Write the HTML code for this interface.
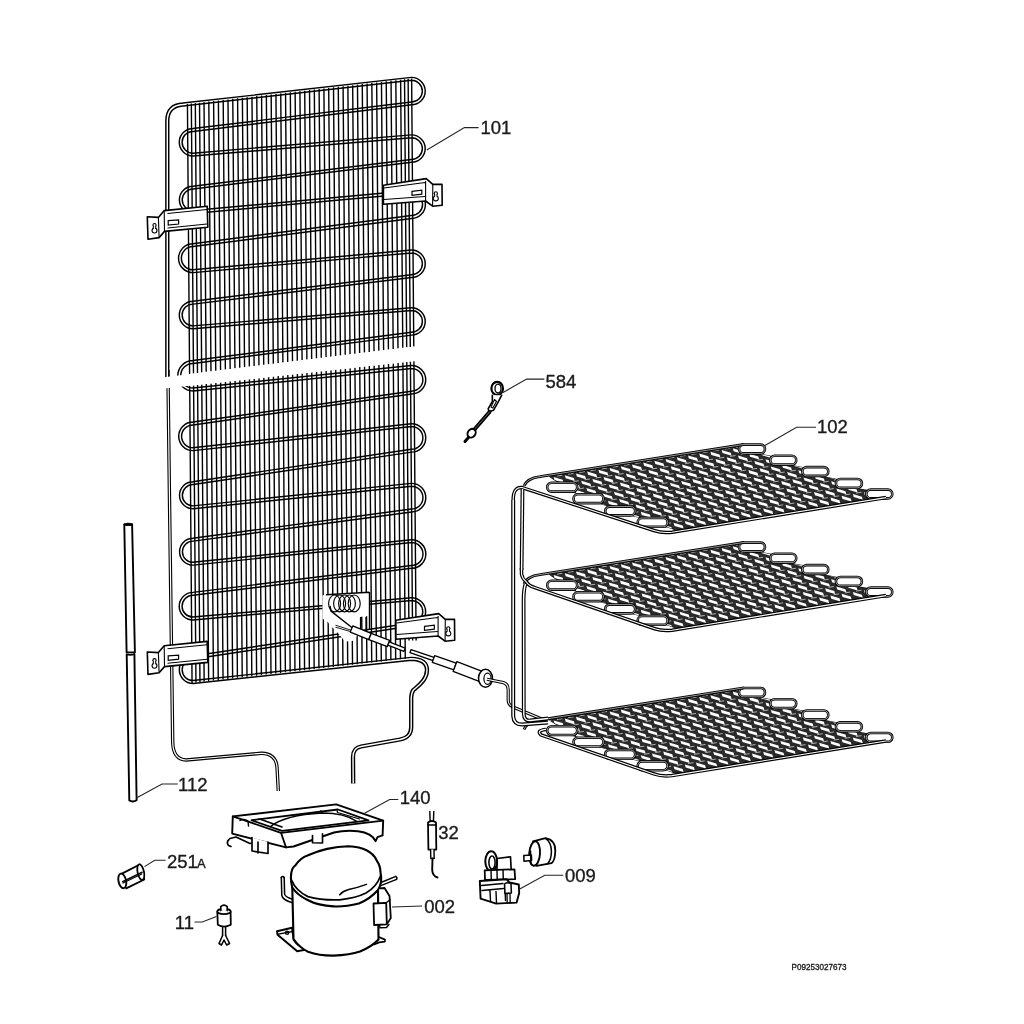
<!DOCTYPE html>
<html><head><meta charset="utf-8"><style>html,body{margin:0;padding:0;background:#fff;}svg{display:block;}</style></head>
<body><svg width="1024" height="1024" viewBox="0 0 1024 1024"><rect width="1024" height="1024" fill="#fff"/><g id="condenser"><path d="M167.9,370 L169.5,500 L172.7,742 C172.9,752 176,759.5 186,760 L261.2,753.3 C270,753 276.5,758 277,767 L278.3,791" fill="none" stroke="#000" stroke-width="3.4" stroke-linejoin="round" stroke-linecap="butt"/><path d="M167.9,370 L169.5,500 L172.7,742 C172.9,752 176,759.5 186,760 L261.2,753.3 C270,753 276.5,758 277,767 L278.3,791" fill="none" stroke="#fff" stroke-width="1.2" stroke-linejoin="round"/><path d="M167.3,380 L167.3,121 Q167.3,105.4 183,104.5 L411.5,78.8 A12.3,12.3 0 0 1 411.5,103.4 L193,130 A12.3,12.3 0 0 0 193,154.6 L411.5,136.3 A12.3,12.3 0 0 1 411.5,160.9 L193,187.6 A12.2,12.2 0 0 0 193,212 L411.5,192 A12.5,12.5 0 0 1 411.5,217 L193,245.1 A13.05,13.05 0 0 0 193,271.2 L411.5,251.5 A12.3,12.3 0 0 1 411.5,276.1 L193,302.7 A12.3,12.3 0 0 0 193,327.3 L411.5,309.1 A12.3,12.3 0 0 1 411.5,333.7 L193,362 A13.75,13.75 0 0 0 193,389.5 L411.5,367 A12.8,12.8 0 0 1 411.5,392.6 L193,423.5 A12.85,12.85 0 0 0 193,449.2 L411.5,425.1 A12.8,12.8 0 0 1 411.5,450.7 L193,483.1 A12.1,12.1 0 0 0 193,507.3 L411.5,484.8 A12.85,12.85 0 0 1 411.5,510.5 L193,539.7 A12,12 0 0 0 193,563.7 L411.5,541.1 A12.9,12.9 0 0 1 411.5,566.9 L193,593.8 A12.35,12.35 0 0 0 193,618.5 L411.5,599.1 A12.7,12.7 0 0 1 411.5,624.5 L193,657.5 A12.25,12.25 0 0 0 193,682 L411.2,658.8 C420,659 427,662 427,670 C427,680 418,686 413.5,690 C411,693 411.2,697 411.2,700 L411.2,727 C411.2,735 407,738 400,739.5 L361,746.5 C355,747.5 353,752 353,757 L353.2,783.5" fill="none" stroke="#000" stroke-width="4.3" stroke-linejoin="round" stroke-linecap="butt"/><path d="M167.3,380 L167.3,121 Q167.3,105.4 183,104.5 L411.5,78.8 A12.3,12.3 0 0 1 411.5,103.4 L193,130 A12.3,12.3 0 0 0 193,154.6 L411.5,136.3 A12.3,12.3 0 0 1 411.5,160.9 L193,187.6 A12.2,12.2 0 0 0 193,212 L411.5,192 A12.5,12.5 0 0 1 411.5,217 L193,245.1 A13.05,13.05 0 0 0 193,271.2 L411.5,251.5 A12.3,12.3 0 0 1 411.5,276.1 L193,302.7 A12.3,12.3 0 0 0 193,327.3 L411.5,309.1 A12.3,12.3 0 0 1 411.5,333.7 L193,362 A13.75,13.75 0 0 0 193,389.5 L411.5,367 A12.8,12.8 0 0 1 411.5,392.6 L193,423.5 A12.85,12.85 0 0 0 193,449.2 L411.5,425.1 A12.8,12.8 0 0 1 411.5,450.7 L193,483.1 A12.1,12.1 0 0 0 193,507.3 L411.5,484.8 A12.85,12.85 0 0 1 411.5,510.5 L193,539.7 A12,12 0 0 0 193,563.7 L411.5,541.1 A12.9,12.9 0 0 1 411.5,566.9 L193,593.8 A12.35,12.35 0 0 0 193,618.5 L411.5,599.1 A12.7,12.7 0 0 1 411.5,624.5 L193,657.5 A12.25,12.25 0 0 0 193,682 L411.2,658.8 C420,659 427,662 427,670 C427,680 418,686 413.5,690 C411,693 411.2,697 411.2,700 L411.2,727 C411.2,735 407,738 400,739.5 L361,746.5 C355,747.5 353,752 353,757 L353.2,783.5" fill="none" stroke="#fff" stroke-width="1.4" stroke-linejoin="round"/><path d="M187.43,104.02L189.59,373.87M189.69,385.82L192.06,683M191.33,103.58L193.49,373.39M193.58,385.39L195.96,682.56M195.32,103.12L197.48,372.91M197.58,384.95L199.96,682.1M199.52,102.64L201.68,372.39M201.78,384.49L204.15,681.62M204.02,102.13L206.17,371.85M206.27,384L208.65,681.11M208.81,101.58L210.97,371.26M211.07,383.47L213.44,680.56M213.61,101.03L215.77,370.67M215.86,382.94L218.24,680.01M218.4,100.49L220.56,370.09M220.66,382.41L223.04,679.47M223.2,99.94L225.36,369.5M225.46,381.89L227.83,678.92M228,99.39L230.15,368.92M230.25,381.36L232.63,678.37M232.79,98.84L234.95,368.33M235.05,380.83L237.42,677.83M237.59,98.3L239.74,367.75M239.84,380.3L242.22,677.28M242.38,97.75L244.54,367.16M244.64,379.77L247.01,676.73M247.18,97.2L249.33,366.58M249.43,379.25L251.81,676.18M251.97,96.66L254.13,365.99M254.23,378.72L256.61,675.64M256.77,96.11L258.92,365.4M259.03,378.19L261.4,675.09M261.56,95.56L263.72,364.82M263.82,377.66L266.2,674.54M266.36,95.01L268.51,364.23M268.62,377.13L270.99,674M271.16,94.47L273.31,363.65M273.41,376.61L275.79,673.45M275.95,93.92L278.1,363.06M278.21,376.08L280.58,672.9M280.75,93.37L282.9,362.48M283,375.55L285.38,672.35M285.54,92.82L287.7,361.89M287.8,375.02L290.17,671.81M290.34,92.28L292.49,361.3M292.6,374.49L294.97,671.26M295.13,91.73L297.29,360.72M297.39,373.97L299.77,670.71M299.93,91.18L302.08,360.13M302.19,373.44L304.56,670.17M304.73,90.64L306.88,359.55M306.98,372.91L309.36,669.62M309.52,90.09L311.67,358.96M311.78,372.38L314.15,669.07M314.32,89.54L316.47,358.38M316.57,371.85L318.95,668.52M319.11,88.99L321.26,357.79M321.37,371.33L323.74,667.98M323.91,88.45L326.06,357.21M326.17,370.8L328.54,667.43M328.7,87.9L330.85,356.62M330.96,370.27L333.34,666.88M333.5,87.35L335.65,356.03M335.76,369.74L338.13,666.33M338.29,86.81L340.44,355.45M340.55,369.21L342.93,665.79M343.09,86.26L345.24,354.86M345.35,368.69L347.72,665.24M347.89,85.71L350.03,354.28M350.15,368.16L352.52,664.69M352.68,85.16L354.83,353.69M354.94,367.63L357.31,664.15M357.48,84.62L359.62,353.11M359.74,367.1L362.11,663.6M362.27,84.07L364.42,352.52M364.53,366.57L366.9,663.05M367.07,83.52L369.22,351.94M369.33,366.05L371.7,662.5M371.86,82.98L374.01,351.35M374.12,365.52L376.5,661.96M376.66,82.43L378.81,350.76M378.92,364.99L381.29,661.41M381.46,81.88L383.6,350.18M383.72,364.46L386.09,660.86M386.25,81.33L388.4,349.59M388.51,363.93L390.88,660.32M391.05,80.79L393.19,349.01M393.31,363.41L395.68,659.77M395.84,80.24L397.99,348.42M398.1,362.88L400.47,659.22M400.64,79.69L402.78,347.84M402.9,362.35L405.27,658.67M404.53,79.25L406.68,347.36M406.8,361.92L409.02,640.5M408.13,78.84L410.28,346.92M410.39,361.52L412.62,640.5M411.63,78.44L413.77,346.49M413.89,361.14L416.12,640.5" stroke="#000" stroke-width="1.4" fill="none"/><polygon points="160,377.7 440,343.5 440,358.2 160,389" fill="#fff"/><polygon points="322.5,595.3 369.3,592 369.3,616 358.5,617 358.5,634 352.5,641 345,641.5 337.5,632.5 331,626 326,620 322.5,619" fill="#fff"/><path d="M326,594.8 L369.3,592.2 M369.5,592 L369.5,630" stroke="#000" stroke-width="1.4" fill="none"/><path d="M360.5,617 V634 M366,617 V634" stroke="#000" stroke-width="1.2" fill="none"/><ellipse cx="334.6" cy="603.4" rx="6.0" ry="8.4" fill="none" stroke="#000" stroke-width="1.15"/><ellipse cx="339.6" cy="603.4" rx="6.0" ry="8.4" fill="none" stroke="#000" stroke-width="1.15"/><ellipse cx="344.6" cy="603.4" rx="6.0" ry="8.4" fill="none" stroke="#000" stroke-width="1.15"/><ellipse cx="349.4" cy="603.4" rx="6.0" ry="8.4" fill="none" stroke="#000" stroke-width="1.15"/><ellipse cx="354.2" cy="603.4" rx="6.0" ry="8.4" fill="none" stroke="#000" stroke-width="1.15"/><path d="M330,606 L331,611 L352.5,628" stroke="#000" stroke-width="1.5" fill="none"/><path d="M335.5,625.2 L352,630.5 M335.5,627.2 L352,632" stroke="#000" stroke-width="0.9" fill="none"/><polygon points="350.26,632.06 368.76,639.56 371.24,633.44 352.74,625.94" fill="#fff" stroke="#000" stroke-width="1.3" stroke-linejoin="round"/><polygon points="368.83,639.59 387.33,646.59 389.67,640.41 371.17,633.41" fill="#fff" stroke="#000" stroke-width="1.3" stroke-linejoin="round"/><polygon points="387.84,645.17 403.84,651.47 405.16,648.13 389.16,641.83" fill="#fff" stroke="#000" stroke-width="1.3" stroke-linejoin="round"/><polygon points="409.99,652.72 432.99,660.52 434.01,657.48 411.01,649.68" fill="#fff" stroke="#000" stroke-width="1.3" stroke-linejoin="round"/><polygon points="432.31,662.4 453.81,669.9 456.19,663.1 434.69,655.6" fill="#fff" stroke="#000" stroke-width="1.3" stroke-linejoin="round"/><polygon points="453.12,671.4 479.12,681.4 482.88,671.6 456.88,661.6" fill="#fff" stroke="#000" stroke-width="1.3" stroke-linejoin="round"/><ellipse cx="485.5" cy="678.3" rx="7" ry="9" fill="#fff" stroke="#000" stroke-width="1.5"/><ellipse cx="487.5" cy="678.8" rx="3.6" ry="5.6" fill="#fff" stroke="#000" stroke-width="1.2"/><path d="M487,679.3 L503.5,682.6 Q508.2,684 508.2,690 L508.2,700.5 Q508.4,705 513,707 L546,720.8" fill="none" stroke="#000" stroke-width="3.2" stroke-linejoin="round" stroke-linecap="butt"/><path d="M487,679.3 L503.5,682.6 Q508.2,684 508.2,690 L508.2,700.5 Q508.4,705 513,707 L546,720.8" fill="none" stroke="#fff" stroke-width="1.1" stroke-linejoin="round"/><g transform="translate(0 0)"><polygon points="147.3,216.8 158.4,217.4 164.2,210.6 207.2,206.2 207.8,227.2 164.5,231.4 159.1,237.6 148,239.2" fill="#fff" stroke="#000" stroke-width="1.6" stroke-linejoin="round"/><path d="M158.4,217.4 L159.1,237.6 M164.2,210.6 L164.5,231.4 M167.5,213.5 L207,209.5 M167.5,228 L207,224" stroke="#000" stroke-width="1.1" fill="none"/><polygon points="168.2,220.6 178.6,219.9 178.6,224 168.2,225.2" fill="#fff" stroke="#000" stroke-width="1.2"/><g stroke="none"><circle cx="154.5" cy="225" r="2.1" fill="#000"/><circle cx="154.5" cy="230.6" r="3.0" fill="#000"/><rect x="152.8" y="225" width="3.4" height="5.6" fill="#000"/><circle cx="154.5" cy="225" r="1.0" fill="#fff"/><circle cx="154.5" cy="230.6" r="1.9" fill="#fff"/><rect x="153.85" y="225" width="1.3" height="5.6" fill="#fff"/></g></g><g transform="translate(0 435.2)"><polygon points="147.3,216.8 158.4,217.4 164.2,210.6 207.2,206.2 207.8,227.2 164.5,231.4 159.1,237.6 148,239.2" fill="#fff" stroke="#000" stroke-width="1.6" stroke-linejoin="round"/><path d="M158.4,217.4 L159.1,237.6 M164.2,210.6 L164.5,231.4 M167.5,213.5 L207,209.5 M167.5,228 L207,224" stroke="#000" stroke-width="1.1" fill="none"/><polygon points="168.2,220.6 178.6,219.9 178.6,224 168.2,225.2" fill="#fff" stroke="#000" stroke-width="1.2"/><g stroke="none"><circle cx="154.5" cy="225" r="2.1" fill="#000"/><circle cx="154.5" cy="230.6" r="3.0" fill="#000"/><rect x="152.8" y="225" width="3.4" height="5.6" fill="#000"/><circle cx="154.5" cy="225" r="1.0" fill="#fff"/><circle cx="154.5" cy="230.6" r="1.9" fill="#fff"/><rect x="153.85" y="225" width="1.3" height="5.6" fill="#fff"/></g></g><g transform="translate(0 0)"><polygon points="383.4,185.2 426.2,178.6 432.8,184.4 442,184.2 442.2,205.2 432.6,206.2 425.6,201 383.4,204.2" fill="#fff" stroke="#000" stroke-width="1.6" stroke-linejoin="round"/><path d="M425.6,181 L425.6,201 M432.8,184.4 L432.6,206.2 M384,188 L425,182.5 M384,199.5 L425,196.5" stroke="#000" stroke-width="1.1" fill="none"/><polygon points="412,191.4 421.8,190.2 421.8,194.2 412,195.4" fill="#fff" stroke="#000" stroke-width="1.2"/><g stroke="none"><circle cx="435.8" cy="193.3" r="2.1" fill="#000"/><circle cx="435.8" cy="198.4" r="3.0" fill="#000"/><rect x="434.1" y="193.3" width="3.4" height="5.1" fill="#000"/><circle cx="435.8" cy="193.3" r="1.0" fill="#fff"/><circle cx="435.8" cy="198.4" r="1.9" fill="#fff"/><rect x="435.15" y="193.3" width="1.3" height="5.1" fill="#fff"/></g></g><g transform="translate(12.5 435)"><polygon points="383.4,185.2 426.2,178.6 432.8,184.4 442,184.2 442.2,205.2 432.6,206.2 425.6,201 383.4,204.2" fill="#fff" stroke="#000" stroke-width="1.6" stroke-linejoin="round"/><path d="M425.6,181 L425.6,201 M432.8,184.4 L432.6,206.2 M384,188 L425,182.5 M384,199.5 L425,196.5" stroke="#000" stroke-width="1.1" fill="none"/><polygon points="412,191.4 421.8,190.2 421.8,194.2 412,195.4" fill="#fff" stroke="#000" stroke-width="1.2"/><g stroke="none"><circle cx="435.8" cy="193.3" r="2.1" fill="#000"/><circle cx="435.8" cy="198.4" r="3.0" fill="#000"/><rect x="434.1" y="193.3" width="3.4" height="5.1" fill="#000"/><circle cx="435.8" cy="193.3" r="1.0" fill="#fff"/><circle cx="435.8" cy="198.4" r="1.9" fill="#fff"/><rect x="435.15" y="193.3" width="1.3" height="5.1" fill="#fff"/></g></g></g><g id="shelves"><clipPath id="cs1"><polygon points="549.5,476.6 741,446.4 750,447 750,451 757,453.6 781.25,458.2 781.25,462.2 788.25,464.8 813.3,469.5 813.3,473.5 820.3,476.1 846.9,481.4 846.9,485.4 853.9,488 877.3,492 877.3,496 884.3,498.6 880,497.2 676,530 668,527.2 652,524.6 652.7,524.4 652.7,520.4 620.2,513 620.2,509 588.5,500.7 588.5,496.7 562.2,489.2 562.2,485.2"/></clipPath><polygon points="549.5,476.6 741,446.4 750,447 750,451 757,453.6 781.25,458.2 781.25,462.2 788.25,464.8 813.3,469.5 813.3,473.5 820.3,476.1 846.9,481.4 846.9,485.4 853.9,488 877.3,492 877.3,496 884.3,498.6 880,497.2 676,530 668,527.2 652,524.6 652.7,524.4 652.7,520.4 620.2,513 620.2,509 588.5,500.7 588.5,496.7 562.2,489.2 562.2,485.2" fill="#2a2a2a" stroke="#111" stroke-width="1.0"/><path clip-path="url(#cs1)" d="M534.8,520.7L543.9,523.4L544.8,526.5L535.7,523.8ZM540,528L549.1,530.7L550,533.8L540.9,531.1ZM545.2,535.3L554.3,538L555.2,541.1L546.1,538.4ZM535.6,504.3L544.7,507L545.6,510.1L536.5,507.4ZM540.8,511.6L549.9,514.3L550.8,517.4L541.7,514.7ZM546,518.9L555.1,521.6L556,524.7L546.9,522ZM551.2,526.2L560.3,528.9L561.2,532L552.1,529.3ZM556.4,533.5L565.5,536.2L566.4,539.3L557.3,536.6ZM536.4,487.9L545.5,490.6L546.4,493.7L537.3,491ZM541.6,495.2L550.7,497.9L551.6,501L542.5,498.3ZM546.8,502.5L555.9,505.2L556.8,508.3L547.7,505.6ZM552,509.8L561.1,512.5L562,515.6L552.9,512.9ZM557.2,517.1L566.3,519.8L567.2,522.9L558.1,520.2ZM562.4,524.4L571.5,527.1L572.4,530.2L563.3,527.5ZM567.6,531.7L576.7,534.4L577.6,537.5L568.5,534.8ZM537.2,471.5L546.3,474.2L547.2,477.3L538.1,474.6ZM542.4,478.8L551.5,481.5L552.4,484.6L543.3,481.9ZM547.6,486.1L556.7,488.8L557.6,491.9L548.5,489.2ZM552.8,493.4L561.9,496.1L562.8,499.2L553.7,496.5ZM558,500.7L567.1,503.4L568,506.5L558.9,503.8ZM563.2,508L572.3,510.7L573.2,513.8L564.1,511.1ZM568.4,515.3L577.5,518L578.4,521.1L569.3,518.4ZM573.6,522.6L582.7,525.3L583.6,528.4L574.5,525.7ZM578.8,529.9L587.9,532.6L588.8,535.7L579.7,533ZM538,455.1L547.1,457.8L548,460.9L538.9,458.2ZM543.2,462.4L552.3,465.1L553.2,468.2L544.1,465.5ZM548.4,469.7L557.5,472.4L558.4,475.5L549.3,472.8ZM553.6,477L562.7,479.7L563.6,482.8L554.5,480.1ZM558.8,484.3L567.9,487L568.8,490.1L559.7,487.4ZM564,491.6L573.1,494.3L574,497.4L564.9,494.7ZM569.2,498.9L578.3,501.6L579.2,504.7L570.1,502ZM574.4,506.2L583.5,508.9L584.4,512L575.3,509.3ZM579.6,513.5L588.7,516.2L589.6,519.3L580.5,516.6ZM584.8,520.8L593.9,523.5L594.8,526.6L585.7,523.9ZM590,528.1L599.1,530.8L600,533.9L590.9,531.2ZM595.2,535.4L604.3,538.1L605.2,541.2L596.1,538.5ZM538.8,438.7L547.9,441.4L548.8,444.5L539.7,441.8ZM544,446L553.1,448.7L554,451.8L544.9,449.1ZM549.2,453.3L558.3,456L559.2,459.1L550.1,456.4ZM554.4,460.6L563.5,463.3L564.4,466.4L555.3,463.7ZM559.6,467.9L568.7,470.6L569.6,473.7L560.5,471ZM564.8,475.2L573.9,477.9L574.8,481L565.7,478.3ZM570,482.5L579.1,485.2L580,488.3L570.9,485.6ZM575.2,489.8L584.3,492.5L585.2,495.6L576.1,492.9ZM580.4,497.1L589.5,499.8L590.4,502.9L581.3,500.2ZM585.6,504.4L594.7,507.1L595.6,510.2L586.5,507.5ZM590.8,511.7L599.9,514.4L600.8,517.5L591.7,514.8ZM596,519L605.1,521.7L606,524.8L596.9,522.1ZM601.2,526.3L610.3,529L611.2,532.1L602.1,529.4ZM606.4,533.6L615.5,536.3L616.4,539.4L607.3,536.7ZM550,436.9L559.1,439.6L560,442.7L550.9,440ZM555.2,444.2L564.3,446.9L565.2,450L556.1,447.3ZM560.4,451.5L569.5,454.2L570.4,457.3L561.3,454.6ZM565.6,458.8L574.7,461.5L575.6,464.6L566.5,461.9ZM570.8,466.1L579.9,468.8L580.8,471.9L571.7,469.2ZM576,473.4L585.1,476.1L586,479.2L576.9,476.5ZM581.2,480.7L590.3,483.4L591.2,486.5L582.1,483.8ZM586.4,488L595.5,490.7L596.4,493.8L587.3,491.1ZM591.6,495.3L600.7,498L601.6,501.1L592.5,498.4ZM596.8,502.6L605.9,505.3L606.8,508.4L597.7,505.7ZM602,509.9L611.1,512.6L612,515.7L602.9,513ZM607.2,517.2L616.3,519.9L617.2,523L608.1,520.3ZM612.4,524.5L621.5,527.2L622.4,530.3L613.3,527.6ZM617.6,531.8L626.7,534.5L627.6,537.6L618.5,534.9ZM561.2,435.1L570.3,437.8L571.2,440.9L562.1,438.2ZM566.4,442.4L575.5,445.1L576.4,448.2L567.3,445.5ZM571.6,449.7L580.7,452.4L581.6,455.5L572.5,452.8ZM576.8,457L585.9,459.7L586.8,462.8L577.7,460.1ZM582,464.3L591.1,467L592,470.1L582.9,467.4ZM587.2,471.6L596.3,474.3L597.2,477.4L588.1,474.7ZM592.4,478.9L601.5,481.6L602.4,484.7L593.3,482ZM597.6,486.2L606.7,488.9L607.6,492L598.5,489.3ZM602.8,493.5L611.9,496.2L612.8,499.3L603.7,496.6ZM608,500.8L617.1,503.5L618,506.6L608.9,503.9ZM613.2,508.1L622.3,510.8L623.2,513.9L614.1,511.2ZM618.4,515.4L627.5,518.1L628.4,521.2L619.3,518.5ZM623.6,522.7L632.7,525.4L633.6,528.5L624.5,525.8ZM628.8,530L637.9,532.7L638.8,535.8L629.7,533.1ZM577.6,440.6L586.7,443.3L587.6,446.4L578.5,443.7ZM582.8,447.9L591.9,450.6L592.8,453.7L583.7,451ZM588,455.2L597.1,457.9L598,461L588.9,458.3ZM593.2,462.5L602.3,465.2L603.2,468.3L594.1,465.6ZM598.4,469.8L607.5,472.5L608.4,475.6L599.3,472.9ZM603.6,477.1L612.7,479.8L613.6,482.9L604.5,480.2ZM608.8,484.4L617.9,487.1L618.8,490.2L609.7,487.5ZM614,491.7L623.1,494.4L624,497.5L614.9,494.8ZM619.2,499L628.3,501.7L629.2,504.8L620.1,502.1ZM624.4,506.3L633.5,509L634.4,512.1L625.3,509.4ZM629.6,513.6L638.7,516.3L639.6,519.4L630.5,516.7ZM634.8,520.9L643.9,523.6L644.8,526.7L635.7,524ZM640,528.2L649.1,530.9L650,534L640.9,531.3ZM645.2,535.5L654.3,538.2L655.2,541.3L646.1,538.6ZM588.8,438.8L597.9,441.5L598.8,444.6L589.7,441.9ZM594,446.1L603.1,448.8L604,451.9L594.9,449.2ZM599.2,453.4L608.3,456.1L609.2,459.2L600.1,456.5ZM604.4,460.7L613.5,463.4L614.4,466.5L605.3,463.8ZM609.6,468L618.7,470.7L619.6,473.8L610.5,471.1ZM614.8,475.3L623.9,478L624.8,481.1L615.7,478.4ZM620,482.6L629.1,485.3L630,488.4L620.9,485.7ZM625.2,489.9L634.3,492.6L635.2,495.7L626.1,493ZM630.4,497.2L639.5,499.9L640.4,503L631.3,500.3ZM635.6,504.5L644.7,507.2L645.6,510.3L636.5,507.6ZM640.8,511.8L649.9,514.5L650.8,517.6L641.7,514.9ZM646,519.1L655.1,521.8L656,524.9L646.9,522.2ZM651.2,526.4L660.3,529.1L661.2,532.2L652.1,529.5ZM656.4,533.7L665.5,536.4L666.4,539.5L657.3,536.8ZM600,437L609.1,439.7L610,442.8L600.9,440.1ZM605.2,444.3L614.3,447L615.2,450.1L606.1,447.4ZM610.4,451.6L619.5,454.3L620.4,457.4L611.3,454.7ZM615.6,458.9L624.7,461.6L625.6,464.7L616.5,462ZM620.8,466.2L629.9,468.9L630.8,472L621.7,469.3ZM626,473.5L635.1,476.2L636,479.3L626.9,476.6ZM631.2,480.8L640.3,483.5L641.2,486.6L632.1,483.9ZM636.4,488.1L645.5,490.8L646.4,493.9L637.3,491.2ZM641.6,495.4L650.7,498.1L651.6,501.2L642.5,498.5ZM646.8,502.7L655.9,505.4L656.8,508.5L647.7,505.8ZM652,510L661.1,512.7L662,515.8L652.9,513.1ZM657.2,517.3L666.3,520L667.2,523.1L658.1,520.4ZM662.4,524.6L671.5,527.3L672.4,530.4L663.3,527.7ZM667.6,531.9L676.7,534.6L677.6,537.7L668.5,535ZM611.2,435.2L620.3,437.9L621.2,441L612.1,438.3ZM616.4,442.5L625.5,445.2L626.4,448.3L617.3,445.6ZM621.6,449.8L630.7,452.5L631.6,455.6L622.5,452.9ZM626.8,457.1L635.9,459.8L636.8,462.9L627.7,460.2ZM632,464.4L641.1,467.1L642,470.2L632.9,467.5ZM637.2,471.7L646.3,474.4L647.2,477.5L638.1,474.8ZM642.4,479L651.5,481.7L652.4,484.8L643.3,482.1ZM647.6,486.3L656.7,489L657.6,492.1L648.5,489.4ZM652.8,493.6L661.9,496.3L662.8,499.4L653.7,496.7ZM658,500.9L667.1,503.6L668,506.7L658.9,504ZM663.2,508.2L672.3,510.9L673.2,514L664.1,511.3ZM668.4,515.5L677.5,518.2L678.4,521.3L669.3,518.6ZM673.6,522.8L682.7,525.5L683.6,528.6L674.5,525.9ZM678.8,530.1L687.9,532.8L688.8,535.9L679.7,533.2ZM627.6,440.7L636.7,443.4L637.6,446.5L628.5,443.8ZM632.8,448L641.9,450.7L642.8,453.8L633.7,451.1ZM638,455.3L647.1,458L648,461.1L638.9,458.4ZM643.2,462.6L652.3,465.3L653.2,468.4L644.1,465.7ZM648.4,469.9L657.5,472.6L658.4,475.7L649.3,473ZM653.6,477.2L662.7,479.9L663.6,483L654.5,480.3ZM658.8,484.5L667.9,487.2L668.8,490.3L659.7,487.6ZM664,491.8L673.1,494.5L674,497.6L664.9,494.9ZM669.2,499.1L678.3,501.8L679.2,504.9L670.1,502.2ZM674.4,506.4L683.5,509.1L684.4,512.2L675.3,509.5ZM679.6,513.7L688.7,516.4L689.6,519.5L680.5,516.8ZM684.8,521L693.9,523.7L694.8,526.8L685.7,524.1ZM690,528.3L699.1,531L700,534.1L690.9,531.4ZM695.2,535.6L704.3,538.3L705.2,541.4L696.1,538.7ZM638.8,438.9L647.9,441.6L648.8,444.7L639.7,442ZM644,446.2L653.1,448.9L654,452L644.9,449.3ZM649.2,453.5L658.3,456.2L659.2,459.3L650.1,456.6ZM654.4,460.8L663.5,463.5L664.4,466.6L655.3,463.9ZM659.6,468.1L668.7,470.8L669.6,473.9L660.5,471.2ZM664.8,475.4L673.9,478.1L674.8,481.2L665.7,478.5ZM670,482.7L679.1,485.4L680,488.5L670.9,485.8ZM675.2,490L684.3,492.7L685.2,495.8L676.1,493.1ZM680.4,497.3L689.5,500L690.4,503.1L681.3,500.4ZM685.6,504.6L694.7,507.3L695.6,510.4L686.5,507.7ZM690.8,511.9L699.9,514.6L700.8,517.7L691.7,515ZM696,519.2L705.1,521.9L706,525L696.9,522.3ZM701.2,526.5L710.3,529.2L711.2,532.3L702.1,529.6ZM706.4,533.8L715.5,536.5L716.4,539.6L707.3,536.9ZM650,437.1L659.1,439.8L660,442.9L650.9,440.2ZM655.2,444.4L664.3,447.1L665.2,450.2L656.1,447.5ZM660.4,451.7L669.5,454.4L670.4,457.5L661.3,454.8ZM665.6,459L674.7,461.7L675.6,464.8L666.5,462.1ZM670.8,466.3L679.9,469L680.8,472.1L671.7,469.4ZM676,473.6L685.1,476.3L686,479.4L676.9,476.7ZM681.2,480.9L690.3,483.6L691.2,486.7L682.1,484ZM686.4,488.2L695.5,490.9L696.4,494L687.3,491.3ZM691.6,495.5L700.7,498.2L701.6,501.3L692.5,498.6ZM696.8,502.8L705.9,505.5L706.8,508.6L697.7,505.9ZM702,510.1L711.1,512.8L712,515.9L702.9,513.2ZM707.2,517.4L716.3,520.1L717.2,523.2L708.1,520.5ZM712.4,524.7L721.5,527.4L722.4,530.5L713.3,527.8ZM717.6,532L726.7,534.7L727.6,537.8L718.5,535.1ZM661.2,435.3L670.3,438L671.2,441.1L662.1,438.4ZM666.4,442.6L675.5,445.3L676.4,448.4L667.3,445.7ZM671.6,449.9L680.7,452.6L681.6,455.7L672.5,453ZM676.8,457.2L685.9,459.9L686.8,463L677.7,460.3ZM682,464.5L691.1,467.2L692,470.3L682.9,467.6ZM687.2,471.8L696.3,474.5L697.2,477.6L688.1,474.9ZM692.4,479.1L701.5,481.8L702.4,484.9L693.3,482.2ZM697.6,486.4L706.7,489.1L707.6,492.2L698.5,489.5ZM702.8,493.7L711.9,496.4L712.8,499.5L703.7,496.8ZM708,501L717.1,503.7L718,506.8L708.9,504.1ZM713.2,508.3L722.3,511L723.2,514.1L714.1,511.4ZM718.4,515.6L727.5,518.3L728.4,521.4L719.3,518.7ZM723.6,522.9L732.7,525.6L733.6,528.7L724.5,526ZM728.8,530.2L737.9,532.9L738.8,536L729.7,533.3ZM672.4,433.5L681.5,436.2L682.4,439.3L673.3,436.6ZM677.6,440.8L686.7,443.5L687.6,446.6L678.5,443.9ZM682.8,448.1L691.9,450.8L692.8,453.9L683.7,451.2ZM688,455.4L697.1,458.1L698,461.2L688.9,458.5ZM693.2,462.7L702.3,465.4L703.2,468.5L694.1,465.8ZM698.4,470L707.5,472.7L708.4,475.8L699.3,473.1ZM703.6,477.3L712.7,480L713.6,483.1L704.5,480.4ZM708.8,484.6L717.9,487.3L718.8,490.4L709.7,487.7ZM714,491.9L723.1,494.6L724,497.7L714.9,495ZM719.2,499.2L728.3,501.9L729.2,505L720.1,502.3ZM724.4,506.5L733.5,509.2L734.4,512.3L725.3,509.6ZM729.6,513.8L738.7,516.5L739.6,519.6L730.5,516.9ZM734.8,521.1L743.9,523.8L744.8,526.9L735.7,524.2ZM740,528.4L749.1,531.1L750,534.2L740.9,531.5ZM745.2,535.7L754.3,538.4L755.2,541.5L746.1,538.8ZM688.8,439L697.9,441.7L698.8,444.8L689.7,442.1ZM694,446.3L703.1,449L704,452.1L694.9,449.4ZM699.2,453.6L708.3,456.3L709.2,459.4L700.1,456.7ZM704.4,460.9L713.5,463.6L714.4,466.7L705.3,464ZM709.6,468.2L718.7,470.9L719.6,474L710.5,471.3ZM714.8,475.5L723.9,478.2L724.8,481.3L715.7,478.6ZM720,482.8L729.1,485.5L730,488.6L720.9,485.9ZM725.2,490.1L734.3,492.8L735.2,495.9L726.1,493.2ZM730.4,497.4L739.5,500.1L740.4,503.2L731.3,500.5ZM735.6,504.7L744.7,507.4L745.6,510.5L736.5,507.8ZM740.8,512L749.9,514.7L750.8,517.8L741.7,515.1ZM746,519.3L755.1,522L756,525.1L746.9,522.4ZM751.2,526.6L760.3,529.3L761.2,532.4L752.1,529.7ZM756.4,533.9L765.5,536.6L766.4,539.7L757.3,537ZM700,437.2L709.1,439.9L710,443L700.9,440.3ZM705.2,444.5L714.3,447.2L715.2,450.3L706.1,447.6ZM710.4,451.8L719.5,454.5L720.4,457.6L711.3,454.9ZM715.6,459.1L724.7,461.8L725.6,464.9L716.5,462.2ZM720.8,466.4L729.9,469.1L730.8,472.2L721.7,469.5ZM726,473.7L735.1,476.4L736,479.5L726.9,476.8ZM731.2,481L740.3,483.7L741.2,486.8L732.1,484.1ZM736.4,488.3L745.5,491L746.4,494.1L737.3,491.4ZM741.6,495.6L750.7,498.3L751.6,501.4L742.5,498.7ZM746.8,502.9L755.9,505.6L756.8,508.7L747.7,506ZM752,510.2L761.1,512.9L762,516L752.9,513.3ZM757.2,517.5L766.3,520.2L767.2,523.3L758.1,520.6ZM762.4,524.8L771.5,527.5L772.4,530.6L763.3,527.9ZM767.6,532.1L776.7,534.8L777.6,537.9L768.5,535.2ZM711.2,435.4L720.3,438.1L721.2,441.2L712.1,438.5ZM716.4,442.7L725.5,445.4L726.4,448.5L717.3,445.8ZM721.6,450L730.7,452.7L731.6,455.8L722.5,453.1ZM726.8,457.3L735.9,460L736.8,463.1L727.7,460.4ZM732,464.6L741.1,467.3L742,470.4L732.9,467.7ZM737.2,471.9L746.3,474.6L747.2,477.7L738.1,475ZM742.4,479.2L751.5,481.9L752.4,485L743.3,482.3ZM747.6,486.5L756.7,489.2L757.6,492.3L748.5,489.6ZM752.8,493.8L761.9,496.5L762.8,499.6L753.7,496.9ZM758,501.1L767.1,503.8L768,506.9L758.9,504.2ZM763.2,508.4L772.3,511.1L773.2,514.2L764.1,511.5ZM768.4,515.7L777.5,518.4L778.4,521.5L769.3,518.8ZM773.6,523L782.7,525.7L783.6,528.8L774.5,526.1ZM778.8,530.3L787.9,533L788.8,536.1L779.7,533.4ZM722.4,433.6L731.5,436.3L732.4,439.4L723.3,436.7ZM727.6,440.9L736.7,443.6L737.6,446.7L728.5,444ZM732.8,448.2L741.9,450.9L742.8,454L733.7,451.3ZM738,455.5L747.1,458.2L748,461.3L738.9,458.6ZM743.2,462.8L752.3,465.5L753.2,468.6L744.1,465.9ZM748.4,470.1L757.5,472.8L758.4,475.9L749.3,473.2ZM753.6,477.4L762.7,480.1L763.6,483.2L754.5,480.5ZM758.8,484.7L767.9,487.4L768.8,490.5L759.7,487.8ZM764,492L773.1,494.7L774,497.8L764.9,495.1ZM769.2,499.3L778.3,502L779.2,505.1L770.1,502.4ZM774.4,506.6L783.5,509.3L784.4,512.4L775.3,509.7ZM779.6,513.9L788.7,516.6L789.6,519.7L780.5,517ZM784.8,521.2L793.9,523.9L794.8,527L785.7,524.3ZM790,528.5L799.1,531.2L800,534.3L790.9,531.6ZM795.2,535.8L804.3,538.5L805.2,541.6L796.1,538.9ZM738.8,439.1L747.9,441.8L748.8,444.9L739.7,442.2ZM744,446.4L753.1,449.1L754,452.2L744.9,449.5ZM749.2,453.7L758.3,456.4L759.2,459.5L750.1,456.8ZM754.4,461L763.5,463.7L764.4,466.8L755.3,464.1ZM759.6,468.3L768.7,471L769.6,474.1L760.5,471.4ZM764.8,475.6L773.9,478.3L774.8,481.4L765.7,478.7ZM770,482.9L779.1,485.6L780,488.7L770.9,486ZM775.2,490.2L784.3,492.9L785.2,496L776.1,493.3ZM780.4,497.5L789.5,500.2L790.4,503.3L781.3,500.6ZM785.6,504.8L794.7,507.5L795.6,510.6L786.5,507.9ZM790.8,512.1L799.9,514.8L800.8,517.9L791.7,515.2ZM796,519.4L805.1,522.1L806,525.2L796.9,522.5ZM801.2,526.7L810.3,529.4L811.2,532.5L802.1,529.8ZM806.4,534L815.5,536.7L816.4,539.8L807.3,537.1ZM750,437.3L759.1,440L760,443.1L750.9,440.4ZM755.2,444.6L764.3,447.3L765.2,450.4L756.1,447.7ZM760.4,451.9L769.5,454.6L770.4,457.7L761.3,455ZM765.6,459.2L774.7,461.9L775.6,465L766.5,462.3ZM770.8,466.5L779.9,469.2L780.8,472.3L771.7,469.6ZM776,473.8L785.1,476.5L786,479.6L776.9,476.9ZM781.2,481.1L790.3,483.8L791.2,486.9L782.1,484.2ZM786.4,488.4L795.5,491.1L796.4,494.2L787.3,491.5ZM791.6,495.7L800.7,498.4L801.6,501.5L792.5,498.8ZM796.8,503L805.9,505.7L806.8,508.8L797.7,506.1ZM802,510.3L811.1,513L812,516.1L802.9,513.4ZM807.2,517.6L816.3,520.3L817.2,523.4L808.1,520.7ZM812.4,524.9L821.5,527.6L822.4,530.7L813.3,528ZM817.6,532.2L826.7,534.9L827.6,538L818.5,535.3ZM761.2,435.5L770.3,438.2L771.2,441.3L762.1,438.6ZM766.4,442.8L775.5,445.5L776.4,448.6L767.3,445.9ZM771.6,450.1L780.7,452.8L781.6,455.9L772.5,453.2ZM776.8,457.4L785.9,460.1L786.8,463.2L777.7,460.5ZM782,464.7L791.1,467.4L792,470.5L782.9,467.8ZM787.2,472L796.3,474.7L797.2,477.8L788.1,475.1ZM792.4,479.3L801.5,482L802.4,485.1L793.3,482.4ZM797.6,486.6L806.7,489.3L807.6,492.4L798.5,489.7ZM802.8,493.9L811.9,496.6L812.8,499.7L803.7,497ZM808,501.2L817.1,503.9L818,507L808.9,504.3ZM813.2,508.5L822.3,511.2L823.2,514.3L814.1,511.6ZM818.4,515.8L827.5,518.5L828.4,521.6L819.3,518.9ZM823.6,523.1L832.7,525.8L833.6,528.9L824.5,526.2ZM828.8,530.4L837.9,533.1L838.8,536.2L829.7,533.5ZM772.4,433.7L781.5,436.4L782.4,439.5L773.3,436.8ZM777.6,441L786.7,443.7L787.6,446.8L778.5,444.1ZM782.8,448.3L791.9,451L792.8,454.1L783.7,451.4ZM788,455.6L797.1,458.3L798,461.4L788.9,458.7ZM793.2,462.9L802.3,465.6L803.2,468.7L794.1,466ZM798.4,470.2L807.5,472.9L808.4,476L799.3,473.3ZM803.6,477.5L812.7,480.2L813.6,483.3L804.5,480.6ZM808.8,484.8L817.9,487.5L818.8,490.6L809.7,487.9ZM814,492.1L823.1,494.8L824,497.9L814.9,495.2ZM819.2,499.4L828.3,502.1L829.2,505.2L820.1,502.5ZM824.4,506.7L833.5,509.4L834.4,512.5L825.3,509.8ZM829.6,514L838.7,516.7L839.6,519.8L830.5,517.1ZM834.8,521.3L843.9,524L844.8,527.1L835.7,524.4ZM840,528.6L849.1,531.3L850,534.4L840.9,531.7ZM845.2,535.9L854.3,538.6L855.2,541.7L846.1,539ZM788.8,439.2L797.9,441.9L798.8,445L789.7,442.3ZM794,446.5L803.1,449.2L804,452.3L794.9,449.6ZM799.2,453.8L808.3,456.5L809.2,459.6L800.1,456.9ZM804.4,461.1L813.5,463.8L814.4,466.9L805.3,464.2ZM809.6,468.4L818.7,471.1L819.6,474.2L810.5,471.5ZM814.8,475.7L823.9,478.4L824.8,481.5L815.7,478.8ZM820,483L829.1,485.7L830,488.8L820.9,486.1ZM825.2,490.3L834.3,493L835.2,496.1L826.1,493.4ZM830.4,497.6L839.5,500.3L840.4,503.4L831.3,500.7ZM835.6,504.9L844.7,507.6L845.6,510.7L836.5,508ZM840.8,512.2L849.9,514.9L850.8,518L841.7,515.3ZM846,519.5L855.1,522.2L856,525.3L846.9,522.6ZM851.2,526.8L860.3,529.5L861.2,532.6L852.1,529.9ZM856.4,534.1L865.5,536.8L866.4,539.9L857.3,537.2ZM800,437.4L809.1,440.1L810,443.2L800.9,440.5ZM805.2,444.7L814.3,447.4L815.2,450.5L806.1,447.8ZM810.4,452L819.5,454.7L820.4,457.8L811.3,455.1ZM815.6,459.3L824.7,462L825.6,465.1L816.5,462.4ZM820.8,466.6L829.9,469.3L830.8,472.4L821.7,469.7ZM826,473.9L835.1,476.6L836,479.7L826.9,477ZM831.2,481.2L840.3,483.9L841.2,487L832.1,484.3ZM836.4,488.5L845.5,491.2L846.4,494.3L837.3,491.6ZM841.6,495.8L850.7,498.5L851.6,501.6L842.5,498.9ZM846.8,503.1L855.9,505.8L856.8,508.9L847.7,506.2ZM852,510.4L861.1,513.1L862,516.2L852.9,513.5ZM857.2,517.7L866.3,520.4L867.2,523.5L858.1,520.8ZM862.4,525L871.5,527.7L872.4,530.8L863.3,528.1ZM867.6,532.3L876.7,535L877.6,538.1L868.5,535.4ZM811.2,435.6L820.3,438.3L821.2,441.4L812.1,438.7ZM816.4,442.9L825.5,445.6L826.4,448.7L817.3,446ZM821.6,450.2L830.7,452.9L831.6,456L822.5,453.3ZM826.8,457.5L835.9,460.2L836.8,463.3L827.7,460.6ZM832,464.8L841.1,467.5L842,470.6L832.9,467.9ZM837.2,472.1L846.3,474.8L847.2,477.9L838.1,475.2ZM842.4,479.4L851.5,482.1L852.4,485.2L843.3,482.5ZM847.6,486.7L856.7,489.4L857.6,492.5L848.5,489.8ZM852.8,494L861.9,496.7L862.8,499.8L853.7,497.1ZM858,501.3L867.1,504L868,507.1L858.9,504.4ZM863.2,508.6L872.3,511.3L873.2,514.4L864.1,511.7ZM868.4,515.9L877.5,518.6L878.4,521.7L869.3,519ZM873.6,523.2L882.7,525.9L883.6,529L874.5,526.3ZM878.8,530.5L887.9,533.2L888.8,536.3L879.7,533.6ZM822.4,433.8L831.5,436.5L832.4,439.6L823.3,436.9ZM827.6,441.1L836.7,443.8L837.6,446.9L828.5,444.2ZM832.8,448.4L841.9,451.1L842.8,454.2L833.7,451.5ZM838,455.7L847.1,458.4L848,461.5L838.9,458.8ZM843.2,463L852.3,465.7L853.2,468.8L844.1,466.1ZM848.4,470.3L857.5,473L858.4,476.1L849.3,473.4ZM853.6,477.6L862.7,480.3L863.6,483.4L854.5,480.7ZM858.8,484.9L867.9,487.6L868.8,490.7L859.7,488ZM864,492.2L873.1,494.9L874,498L864.9,495.3ZM869.2,499.5L878.3,502.2L879.2,505.3L870.1,502.6ZM874.4,506.8L883.5,509.5L884.4,512.6L875.3,509.9ZM879.6,514.1L888.7,516.8L889.6,519.9L880.5,517.2ZM884.8,521.4L893.9,524.1L894.8,527.2L885.7,524.5ZM838.8,439.3L847.9,442L848.8,445.1L839.7,442.4ZM844,446.6L853.1,449.3L854,452.4L844.9,449.7ZM849.2,453.9L858.3,456.6L859.2,459.7L850.1,457ZM854.4,461.2L863.5,463.9L864.4,467L855.3,464.3ZM859.6,468.5L868.7,471.2L869.6,474.3L860.5,471.6ZM864.8,475.8L873.9,478.5L874.8,481.6L865.7,478.9ZM870,483.1L879.1,485.8L880,488.9L870.9,486.2ZM875.2,490.4L884.3,493.1L885.2,496.2L876.1,493.5ZM880.4,497.7L889.5,500.4L890.4,503.5L881.3,500.8ZM885.6,505L894.7,507.7L895.6,510.8L886.5,508.1ZM850,437.5L859.1,440.2L860,443.3L850.9,440.6ZM855.2,444.8L864.3,447.5L865.2,450.6L856.1,447.9ZM860.4,452.1L869.5,454.8L870.4,457.9L861.3,455.2ZM865.6,459.4L874.7,462.1L875.6,465.2L866.5,462.5ZM870.8,466.7L879.9,469.4L880.8,472.5L871.7,469.8ZM876,474L885.1,476.7L886,479.8L876.9,477.1ZM881.2,481.3L890.3,484L891.2,487.1L882.1,484.4ZM886.4,488.6L895.5,491.3L896.4,494.4L887.3,491.7ZM861.2,435.7L870.3,438.4L871.2,441.5L862.1,438.8ZM866.4,443L875.5,445.7L876.4,448.8L867.3,446.1ZM871.6,450.3L880.7,453L881.6,456.1L872.5,453.4ZM876.8,457.6L885.9,460.3L886.8,463.4L877.7,460.7ZM882,464.9L891.1,467.6L892,470.7L882.9,468ZM887.2,472.2L896.3,474.9L897.2,478L888.1,475.3ZM872.4,433.9L881.5,436.6L882.4,439.7L873.3,437ZM877.6,441.2L886.7,443.9L887.6,447L878.5,444.3ZM882.8,448.5L891.9,451.2L892.8,454.3L883.7,451.6ZM888,455.8L897.1,458.5L898,461.6L888.9,458.9ZM888.8,439.4L897.9,442.1L898.8,445.2L889.7,442.5Z" fill="#fff"/><path clip-path="url(#cs1)" d="M336.19,446.49L1126.05,319.55M341.39,453.79L1131.25,326.85M346.59,461.09L1136.45,334.15M351.79,468.39L1141.65,341.45M356.99,475.69L1146.85,348.75M362.19,482.99L1152.05,356.05M367.39,490.29L1157.25,363.35M372.59,497.59L1162.45,370.65M377.79,504.89L1167.65,377.95M382.99,512.19L1172.85,385.25M388.19,519.49L1178.05,392.55M393.39,526.79L1183.25,399.85M398.59,534.09L1188.45,407.15M403.79,541.39L1193.65,414.45M408.99,548.69L1198.85,421.75M414.19,555.99L1204.05,429.05M419.39,563.29L1209.25,436.35M424.59,570.59L1214.45,443.65M429.79,577.89L1219.65,450.95M434.99,585.19L1224.85,458.25M440.19,592.49L1230.05,465.55M445.39,599.79L1235.25,472.85M450.59,607.09L1240.45,480.15M455.79,614.39L1245.65,487.45M460.99,621.69L1250.85,494.75M466.19,628.99L1256.05,502.05M471.39,636.29L1261.25,509.35M476.59,643.59L1266.45,516.65M481.79,650.89L1271.65,523.95M486.99,658.19L1276.85,531.25" stroke="#b0b0b0" stroke-width="1" stroke-dasharray="5.5 5.84" fill="none"/><path d="M743.4,444.6 L760.6,444.6 A4.4,4.4 0 0 1 760.6,453.4 L743.4,453.4 A4.4,4.4 0 0 1 743.4,444.6 Z" fill="#fff" stroke="#000" stroke-width="2.6"/><path d="M743.4,444.6 L760.6,444.6 A4.4,4.4 0 0 1 760.6,453.4 L743.4,453.4 A4.4,4.4 0 0 1 743.4,444.6 Z" fill="none" stroke="#fff" stroke-width="0.6"/><path d="M774.65,455.8 L791.85,455.8 A4.4,4.4 0 0 1 791.85,464.6 L774.65,464.6 A4.4,4.4 0 0 1 774.65,455.8 Z" fill="#fff" stroke="#000" stroke-width="2.6"/><path d="M774.65,455.8 L791.85,455.8 A4.4,4.4 0 0 1 791.85,464.6 L774.65,464.6 A4.4,4.4 0 0 1 774.65,455.8 Z" fill="none" stroke="#fff" stroke-width="0.6"/><path d="M806.7,467.1 L823.9,467.1 A4.4,4.4 0 0 1 823.9,475.9 L806.7,475.9 A4.4,4.4 0 0 1 806.7,467.1 Z" fill="#fff" stroke="#000" stroke-width="2.6"/><path d="M806.7,467.1 L823.9,467.1 A4.4,4.4 0 0 1 823.9,475.9 L806.7,475.9 A4.4,4.4 0 0 1 806.7,467.1 Z" fill="none" stroke="#fff" stroke-width="0.6"/><path d="M840.3,479 L857.5,479 A4.4,4.4 0 0 1 857.5,487.8 L840.3,487.8 A4.4,4.4 0 0 1 840.3,479 Z" fill="#fff" stroke="#000" stroke-width="2.6"/><path d="M840.3,479 L857.5,479 A4.4,4.4 0 0 1 857.5,487.8 L840.3,487.8 A4.4,4.4 0 0 1 840.3,479 Z" fill="none" stroke="#fff" stroke-width="0.6"/><path d="M870.7,489.6 L887.9,489.6 A4.4,4.4 0 0 1 887.9,498.4 L870.7,498.4 A4.4,4.4 0 0 1 870.7,489.6 Z" fill="#fff" stroke="#000" stroke-width="2.6"/><path d="M870.7,489.6 L887.9,489.6 A4.4,4.4 0 0 1 887.9,498.4 L870.7,498.4 A4.4,4.4 0 0 1 870.7,489.6 Z" fill="none" stroke="#fff" stroke-width="0.6"/><path d="M551.6,482.8 L572.8,482.8 A4.4,4.4 0 0 1 572.8,491.6 L551.6,491.6 A4.4,4.4 0 0 1 551.6,482.8 Z" fill="#fff" stroke="#000" stroke-width="2.6"/><path d="M551.6,482.8 L572.8,482.8 A4.4,4.4 0 0 1 572.8,491.6 L551.6,491.6 A4.4,4.4 0 0 1 551.6,482.8 Z" fill="none" stroke="#fff" stroke-width="0.6"/><path d="M577.9,494.3 L599.1,494.3 A4.4,4.4 0 0 1 599.1,503.1 L577.9,503.1 A4.4,4.4 0 0 1 577.9,494.3 Z" fill="#fff" stroke="#000" stroke-width="2.6"/><path d="M577.9,494.3 L599.1,494.3 A4.4,4.4 0 0 1 599.1,503.1 L577.9,503.1 A4.4,4.4 0 0 1 577.9,494.3 Z" fill="none" stroke="#fff" stroke-width="0.6"/><path d="M609.6,506.6 L630.8,506.6 A4.4,4.4 0 0 1 630.8,515.4 L609.6,515.4 A4.4,4.4 0 0 1 609.6,506.6 Z" fill="#fff" stroke="#000" stroke-width="2.6"/><path d="M609.6,506.6 L630.8,506.6 A4.4,4.4 0 0 1 630.8,515.4 L609.6,515.4 A4.4,4.4 0 0 1 609.6,506.6 Z" fill="none" stroke="#fff" stroke-width="0.6"/><path d="M642.1,518 L663.3,518 A4.4,4.4 0 0 1 663.3,526.8 L642.1,526.8 A4.4,4.4 0 0 1 642.1,518 Z" fill="#fff" stroke="#000" stroke-width="2.6"/><path d="M642.1,518 L663.3,518 A4.4,4.4 0 0 1 663.3,526.8 L642.1,526.8 A4.4,4.4 0 0 1 642.1,518 Z" fill="none" stroke="#fff" stroke-width="0.6"/><path d="M524,486 Q527,478.2 540,476.6 L744,444.4" fill="none" stroke="#000" stroke-width="2.8" stroke-linejoin="round" stroke-linecap="butt"/><path d="M524,486 Q527,478.2 540,476.6 L744,444.4" fill="none" stroke="#fff" stroke-width="0.6" stroke-linejoin="round"/><path d="M513.2,500 Q513.2,486.8 522,487.6 L654,530.5 Q662,533.4 672,532.2 L886,497.6" fill="none" stroke="#000" stroke-width="3.5" stroke-linejoin="round" stroke-linecap="butt"/><path d="M513.2,500 Q513.2,486.8 522,487.6 L654,530.5 Q662,533.4 672,532.2 L886,497.6" fill="none" stroke="#fff" stroke-width="1.1" stroke-linejoin="round"/><clipPath id="cs2"><polygon points="549.5,574.6 741,544.4 750,545 750,549 757,551.6 781.25,556.2 781.25,560.2 788.25,562.8 813.3,567.5 813.3,571.5 820.3,574.1 846.9,579.4 846.9,583.4 853.9,586 877.3,590 877.3,594 884.3,596.6 880,595.2 676,628 668,625.2 652,622.6 652.7,622.4 652.7,618.4 620.2,611 620.2,607 588.5,598.7 588.5,594.7 562.2,587.2 562.2,583.2"/></clipPath><polygon points="549.5,574.6 741,544.4 750,545 750,549 757,551.6 781.25,556.2 781.25,560.2 788.25,562.8 813.3,567.5 813.3,571.5 820.3,574.1 846.9,579.4 846.9,583.4 853.9,586 877.3,590 877.3,594 884.3,596.6 880,595.2 676,628 668,625.2 652,622.6 652.7,622.4 652.7,618.4 620.2,611 620.2,607 588.5,598.7 588.5,594.7 562.2,587.2 562.2,583.2" fill="#2a2a2a" stroke="#111" stroke-width="1.0"/><path clip-path="url(#cs2)" d="M534.8,618.7L543.9,621.4L544.8,624.5L535.7,621.8ZM540,626L549.1,628.7L550,631.8L540.9,629.1ZM545.2,633.3L554.3,636L555.2,639.1L546.1,636.4ZM535.6,602.3L544.7,605L545.6,608.1L536.5,605.4ZM540.8,609.6L549.9,612.3L550.8,615.4L541.7,612.7ZM546,616.9L555.1,619.6L556,622.7L546.9,620ZM551.2,624.2L560.3,626.9L561.2,630L552.1,627.3ZM556.4,631.5L565.5,634.2L566.4,637.3L557.3,634.6ZM536.4,585.9L545.5,588.6L546.4,591.7L537.3,589ZM541.6,593.2L550.7,595.9L551.6,599L542.5,596.3ZM546.8,600.5L555.9,603.2L556.8,606.3L547.7,603.6ZM552,607.8L561.1,610.5L562,613.6L552.9,610.9ZM557.2,615.1L566.3,617.8L567.2,620.9L558.1,618.2ZM562.4,622.4L571.5,625.1L572.4,628.2L563.3,625.5ZM567.6,629.7L576.7,632.4L577.6,635.5L568.5,632.8ZM537.2,569.5L546.3,572.2L547.2,575.3L538.1,572.6ZM542.4,576.8L551.5,579.5L552.4,582.6L543.3,579.9ZM547.6,584.1L556.7,586.8L557.6,589.9L548.5,587.2ZM552.8,591.4L561.9,594.1L562.8,597.2L553.7,594.5ZM558,598.7L567.1,601.4L568,604.5L558.9,601.8ZM563.2,606L572.3,608.7L573.2,611.8L564.1,609.1ZM568.4,613.3L577.5,616L578.4,619.1L569.3,616.4ZM573.6,620.6L582.7,623.3L583.6,626.4L574.5,623.7ZM578.8,627.9L587.9,630.6L588.8,633.7L579.7,631ZM538,553.1L547.1,555.8L548,558.9L538.9,556.2ZM543.2,560.4L552.3,563.1L553.2,566.2L544.1,563.5ZM548.4,567.7L557.5,570.4L558.4,573.5L549.3,570.8ZM553.6,575L562.7,577.7L563.6,580.8L554.5,578.1ZM558.8,582.3L567.9,585L568.8,588.1L559.7,585.4ZM564,589.6L573.1,592.3L574,595.4L564.9,592.7ZM569.2,596.9L578.3,599.6L579.2,602.7L570.1,600ZM574.4,604.2L583.5,606.9L584.4,610L575.3,607.3ZM579.6,611.5L588.7,614.2L589.6,617.3L580.5,614.6ZM584.8,618.8L593.9,621.5L594.8,624.6L585.7,621.9ZM590,626.1L599.1,628.8L600,631.9L590.9,629.2ZM595.2,633.4L604.3,636.1L605.2,639.2L596.1,636.5ZM538.8,536.7L547.9,539.4L548.8,542.5L539.7,539.8ZM544,544L553.1,546.7L554,549.8L544.9,547.1ZM549.2,551.3L558.3,554L559.2,557.1L550.1,554.4ZM554.4,558.6L563.5,561.3L564.4,564.4L555.3,561.7ZM559.6,565.9L568.7,568.6L569.6,571.7L560.5,569ZM564.8,573.2L573.9,575.9L574.8,579L565.7,576.3ZM570,580.5L579.1,583.2L580,586.3L570.9,583.6ZM575.2,587.8L584.3,590.5L585.2,593.6L576.1,590.9ZM580.4,595.1L589.5,597.8L590.4,600.9L581.3,598.2ZM585.6,602.4L594.7,605.1L595.6,608.2L586.5,605.5ZM590.8,609.7L599.9,612.4L600.8,615.5L591.7,612.8ZM596,617L605.1,619.7L606,622.8L596.9,620.1ZM601.2,624.3L610.3,627L611.2,630.1L602.1,627.4ZM606.4,631.6L615.5,634.3L616.4,637.4L607.3,634.7ZM550,534.9L559.1,537.6L560,540.7L550.9,538ZM555.2,542.2L564.3,544.9L565.2,548L556.1,545.3ZM560.4,549.5L569.5,552.2L570.4,555.3L561.3,552.6ZM565.6,556.8L574.7,559.5L575.6,562.6L566.5,559.9ZM570.8,564.1L579.9,566.8L580.8,569.9L571.7,567.2ZM576,571.4L585.1,574.1L586,577.2L576.9,574.5ZM581.2,578.7L590.3,581.4L591.2,584.5L582.1,581.8ZM586.4,586L595.5,588.7L596.4,591.8L587.3,589.1ZM591.6,593.3L600.7,596L601.6,599.1L592.5,596.4ZM596.8,600.6L605.9,603.3L606.8,606.4L597.7,603.7ZM602,607.9L611.1,610.6L612,613.7L602.9,611ZM607.2,615.2L616.3,617.9L617.2,621L608.1,618.3ZM612.4,622.5L621.5,625.2L622.4,628.3L613.3,625.6ZM617.6,629.8L626.7,632.5L627.6,635.6L618.5,632.9ZM561.2,533.1L570.3,535.8L571.2,538.9L562.1,536.2ZM566.4,540.4L575.5,543.1L576.4,546.2L567.3,543.5ZM571.6,547.7L580.7,550.4L581.6,553.5L572.5,550.8ZM576.8,555L585.9,557.7L586.8,560.8L577.7,558.1ZM582,562.3L591.1,565L592,568.1L582.9,565.4ZM587.2,569.6L596.3,572.3L597.2,575.4L588.1,572.7ZM592.4,576.9L601.5,579.6L602.4,582.7L593.3,580ZM597.6,584.2L606.7,586.9L607.6,590L598.5,587.3ZM602.8,591.5L611.9,594.2L612.8,597.3L603.7,594.6ZM608,598.8L617.1,601.5L618,604.6L608.9,601.9ZM613.2,606.1L622.3,608.8L623.2,611.9L614.1,609.2ZM618.4,613.4L627.5,616.1L628.4,619.2L619.3,616.5ZM623.6,620.7L632.7,623.4L633.6,626.5L624.5,623.8ZM628.8,628L637.9,630.7L638.8,633.8L629.7,631.1ZM577.6,538.6L586.7,541.3L587.6,544.4L578.5,541.7ZM582.8,545.9L591.9,548.6L592.8,551.7L583.7,549ZM588,553.2L597.1,555.9L598,559L588.9,556.3ZM593.2,560.5L602.3,563.2L603.2,566.3L594.1,563.6ZM598.4,567.8L607.5,570.5L608.4,573.6L599.3,570.9ZM603.6,575.1L612.7,577.8L613.6,580.9L604.5,578.2ZM608.8,582.4L617.9,585.1L618.8,588.2L609.7,585.5ZM614,589.7L623.1,592.4L624,595.5L614.9,592.8ZM619.2,597L628.3,599.7L629.2,602.8L620.1,600.1ZM624.4,604.3L633.5,607L634.4,610.1L625.3,607.4ZM629.6,611.6L638.7,614.3L639.6,617.4L630.5,614.7ZM634.8,618.9L643.9,621.6L644.8,624.7L635.7,622ZM640,626.2L649.1,628.9L650,632L640.9,629.3ZM645.2,633.5L654.3,636.2L655.2,639.3L646.1,636.6ZM588.8,536.8L597.9,539.5L598.8,542.6L589.7,539.9ZM594,544.1L603.1,546.8L604,549.9L594.9,547.2ZM599.2,551.4L608.3,554.1L609.2,557.2L600.1,554.5ZM604.4,558.7L613.5,561.4L614.4,564.5L605.3,561.8ZM609.6,566L618.7,568.7L619.6,571.8L610.5,569.1ZM614.8,573.3L623.9,576L624.8,579.1L615.7,576.4ZM620,580.6L629.1,583.3L630,586.4L620.9,583.7ZM625.2,587.9L634.3,590.6L635.2,593.7L626.1,591ZM630.4,595.2L639.5,597.9L640.4,601L631.3,598.3ZM635.6,602.5L644.7,605.2L645.6,608.3L636.5,605.6ZM640.8,609.8L649.9,612.5L650.8,615.6L641.7,612.9ZM646,617.1L655.1,619.8L656,622.9L646.9,620.2ZM651.2,624.4L660.3,627.1L661.2,630.2L652.1,627.5ZM656.4,631.7L665.5,634.4L666.4,637.5L657.3,634.8ZM600,535L609.1,537.7L610,540.8L600.9,538.1ZM605.2,542.3L614.3,545L615.2,548.1L606.1,545.4ZM610.4,549.6L619.5,552.3L620.4,555.4L611.3,552.7ZM615.6,556.9L624.7,559.6L625.6,562.7L616.5,560ZM620.8,564.2L629.9,566.9L630.8,570L621.7,567.3ZM626,571.5L635.1,574.2L636,577.3L626.9,574.6ZM631.2,578.8L640.3,581.5L641.2,584.6L632.1,581.9ZM636.4,586.1L645.5,588.8L646.4,591.9L637.3,589.2ZM641.6,593.4L650.7,596.1L651.6,599.2L642.5,596.5ZM646.8,600.7L655.9,603.4L656.8,606.5L647.7,603.8ZM652,608L661.1,610.7L662,613.8L652.9,611.1ZM657.2,615.3L666.3,618L667.2,621.1L658.1,618.4ZM662.4,622.6L671.5,625.3L672.4,628.4L663.3,625.7ZM667.6,629.9L676.7,632.6L677.6,635.7L668.5,633ZM611.2,533.2L620.3,535.9L621.2,539L612.1,536.3ZM616.4,540.5L625.5,543.2L626.4,546.3L617.3,543.6ZM621.6,547.8L630.7,550.5L631.6,553.6L622.5,550.9ZM626.8,555.1L635.9,557.8L636.8,560.9L627.7,558.2ZM632,562.4L641.1,565.1L642,568.2L632.9,565.5ZM637.2,569.7L646.3,572.4L647.2,575.5L638.1,572.8ZM642.4,577L651.5,579.7L652.4,582.8L643.3,580.1ZM647.6,584.3L656.7,587L657.6,590.1L648.5,587.4ZM652.8,591.6L661.9,594.3L662.8,597.4L653.7,594.7ZM658,598.9L667.1,601.6L668,604.7L658.9,602ZM663.2,606.2L672.3,608.9L673.2,612L664.1,609.3ZM668.4,613.5L677.5,616.2L678.4,619.3L669.3,616.6ZM673.6,620.8L682.7,623.5L683.6,626.6L674.5,623.9ZM678.8,628.1L687.9,630.8L688.8,633.9L679.7,631.2ZM627.6,538.7L636.7,541.4L637.6,544.5L628.5,541.8ZM632.8,546L641.9,548.7L642.8,551.8L633.7,549.1ZM638,553.3L647.1,556L648,559.1L638.9,556.4ZM643.2,560.6L652.3,563.3L653.2,566.4L644.1,563.7ZM648.4,567.9L657.5,570.6L658.4,573.7L649.3,571ZM653.6,575.2L662.7,577.9L663.6,581L654.5,578.3ZM658.8,582.5L667.9,585.2L668.8,588.3L659.7,585.6ZM664,589.8L673.1,592.5L674,595.6L664.9,592.9ZM669.2,597.1L678.3,599.8L679.2,602.9L670.1,600.2ZM674.4,604.4L683.5,607.1L684.4,610.2L675.3,607.5ZM679.6,611.7L688.7,614.4L689.6,617.5L680.5,614.8ZM684.8,619L693.9,621.7L694.8,624.8L685.7,622.1ZM690,626.3L699.1,629L700,632.1L690.9,629.4ZM695.2,633.6L704.3,636.3L705.2,639.4L696.1,636.7ZM638.8,536.9L647.9,539.6L648.8,542.7L639.7,540ZM644,544.2L653.1,546.9L654,550L644.9,547.3ZM649.2,551.5L658.3,554.2L659.2,557.3L650.1,554.6ZM654.4,558.8L663.5,561.5L664.4,564.6L655.3,561.9ZM659.6,566.1L668.7,568.8L669.6,571.9L660.5,569.2ZM664.8,573.4L673.9,576.1L674.8,579.2L665.7,576.5ZM670,580.7L679.1,583.4L680,586.5L670.9,583.8ZM675.2,588L684.3,590.7L685.2,593.8L676.1,591.1ZM680.4,595.3L689.5,598L690.4,601.1L681.3,598.4ZM685.6,602.6L694.7,605.3L695.6,608.4L686.5,605.7ZM690.8,609.9L699.9,612.6L700.8,615.7L691.7,613ZM696,617.2L705.1,619.9L706,623L696.9,620.3ZM701.2,624.5L710.3,627.2L711.2,630.3L702.1,627.6ZM706.4,631.8L715.5,634.5L716.4,637.6L707.3,634.9ZM650,535.1L659.1,537.8L660,540.9L650.9,538.2ZM655.2,542.4L664.3,545.1L665.2,548.2L656.1,545.5ZM660.4,549.7L669.5,552.4L670.4,555.5L661.3,552.8ZM665.6,557L674.7,559.7L675.6,562.8L666.5,560.1ZM670.8,564.3L679.9,567L680.8,570.1L671.7,567.4ZM676,571.6L685.1,574.3L686,577.4L676.9,574.7ZM681.2,578.9L690.3,581.6L691.2,584.7L682.1,582ZM686.4,586.2L695.5,588.9L696.4,592L687.3,589.3ZM691.6,593.5L700.7,596.2L701.6,599.3L692.5,596.6ZM696.8,600.8L705.9,603.5L706.8,606.6L697.7,603.9ZM702,608.1L711.1,610.8L712,613.9L702.9,611.2ZM707.2,615.4L716.3,618.1L717.2,621.2L708.1,618.5ZM712.4,622.7L721.5,625.4L722.4,628.5L713.3,625.8ZM717.6,630L726.7,632.7L727.6,635.8L718.5,633.1ZM661.2,533.3L670.3,536L671.2,539.1L662.1,536.4ZM666.4,540.6L675.5,543.3L676.4,546.4L667.3,543.7ZM671.6,547.9L680.7,550.6L681.6,553.7L672.5,551ZM676.8,555.2L685.9,557.9L686.8,561L677.7,558.3ZM682,562.5L691.1,565.2L692,568.3L682.9,565.6ZM687.2,569.8L696.3,572.5L697.2,575.6L688.1,572.9ZM692.4,577.1L701.5,579.8L702.4,582.9L693.3,580.2ZM697.6,584.4L706.7,587.1L707.6,590.2L698.5,587.5ZM702.8,591.7L711.9,594.4L712.8,597.5L703.7,594.8ZM708,599L717.1,601.7L718,604.8L708.9,602.1ZM713.2,606.3L722.3,609L723.2,612.1L714.1,609.4ZM718.4,613.6L727.5,616.3L728.4,619.4L719.3,616.7ZM723.6,620.9L732.7,623.6L733.6,626.7L724.5,624ZM728.8,628.2L737.9,630.9L738.8,634L729.7,631.3ZM672.4,531.5L681.5,534.2L682.4,537.3L673.3,534.6ZM677.6,538.8L686.7,541.5L687.6,544.6L678.5,541.9ZM682.8,546.1L691.9,548.8L692.8,551.9L683.7,549.2ZM688,553.4L697.1,556.1L698,559.2L688.9,556.5ZM693.2,560.7L702.3,563.4L703.2,566.5L694.1,563.8ZM698.4,568L707.5,570.7L708.4,573.8L699.3,571.1ZM703.6,575.3L712.7,578L713.6,581.1L704.5,578.4ZM708.8,582.6L717.9,585.3L718.8,588.4L709.7,585.7ZM714,589.9L723.1,592.6L724,595.7L714.9,593ZM719.2,597.2L728.3,599.9L729.2,603L720.1,600.3ZM724.4,604.5L733.5,607.2L734.4,610.3L725.3,607.6ZM729.6,611.8L738.7,614.5L739.6,617.6L730.5,614.9ZM734.8,619.1L743.9,621.8L744.8,624.9L735.7,622.2ZM740,626.4L749.1,629.1L750,632.2L740.9,629.5ZM745.2,633.7L754.3,636.4L755.2,639.5L746.1,636.8ZM688.8,537L697.9,539.7L698.8,542.8L689.7,540.1ZM694,544.3L703.1,547L704,550.1L694.9,547.4ZM699.2,551.6L708.3,554.3L709.2,557.4L700.1,554.7ZM704.4,558.9L713.5,561.6L714.4,564.7L705.3,562ZM709.6,566.2L718.7,568.9L719.6,572L710.5,569.3ZM714.8,573.5L723.9,576.2L724.8,579.3L715.7,576.6ZM720,580.8L729.1,583.5L730,586.6L720.9,583.9ZM725.2,588.1L734.3,590.8L735.2,593.9L726.1,591.2ZM730.4,595.4L739.5,598.1L740.4,601.2L731.3,598.5ZM735.6,602.7L744.7,605.4L745.6,608.5L736.5,605.8ZM740.8,610L749.9,612.7L750.8,615.8L741.7,613.1ZM746,617.3L755.1,620L756,623.1L746.9,620.4ZM751.2,624.6L760.3,627.3L761.2,630.4L752.1,627.7ZM756.4,631.9L765.5,634.6L766.4,637.7L757.3,635ZM700,535.2L709.1,537.9L710,541L700.9,538.3ZM705.2,542.5L714.3,545.2L715.2,548.3L706.1,545.6ZM710.4,549.8L719.5,552.5L720.4,555.6L711.3,552.9ZM715.6,557.1L724.7,559.8L725.6,562.9L716.5,560.2ZM720.8,564.4L729.9,567.1L730.8,570.2L721.7,567.5ZM726,571.7L735.1,574.4L736,577.5L726.9,574.8ZM731.2,579L740.3,581.7L741.2,584.8L732.1,582.1ZM736.4,586.3L745.5,589L746.4,592.1L737.3,589.4ZM741.6,593.6L750.7,596.3L751.6,599.4L742.5,596.7ZM746.8,600.9L755.9,603.6L756.8,606.7L747.7,604ZM752,608.2L761.1,610.9L762,614L752.9,611.3ZM757.2,615.5L766.3,618.2L767.2,621.3L758.1,618.6ZM762.4,622.8L771.5,625.5L772.4,628.6L763.3,625.9ZM767.6,630.1L776.7,632.8L777.6,635.9L768.5,633.2ZM711.2,533.4L720.3,536.1L721.2,539.2L712.1,536.5ZM716.4,540.7L725.5,543.4L726.4,546.5L717.3,543.8ZM721.6,548L730.7,550.7L731.6,553.8L722.5,551.1ZM726.8,555.3L735.9,558L736.8,561.1L727.7,558.4ZM732,562.6L741.1,565.3L742,568.4L732.9,565.7ZM737.2,569.9L746.3,572.6L747.2,575.7L738.1,573ZM742.4,577.2L751.5,579.9L752.4,583L743.3,580.3ZM747.6,584.5L756.7,587.2L757.6,590.3L748.5,587.6ZM752.8,591.8L761.9,594.5L762.8,597.6L753.7,594.9ZM758,599.1L767.1,601.8L768,604.9L758.9,602.2ZM763.2,606.4L772.3,609.1L773.2,612.2L764.1,609.5ZM768.4,613.7L777.5,616.4L778.4,619.5L769.3,616.8ZM773.6,621L782.7,623.7L783.6,626.8L774.5,624.1ZM778.8,628.3L787.9,631L788.8,634.1L779.7,631.4ZM722.4,531.6L731.5,534.3L732.4,537.4L723.3,534.7ZM727.6,538.9L736.7,541.6L737.6,544.7L728.5,542ZM732.8,546.2L741.9,548.9L742.8,552L733.7,549.3ZM738,553.5L747.1,556.2L748,559.3L738.9,556.6ZM743.2,560.8L752.3,563.5L753.2,566.6L744.1,563.9ZM748.4,568.1L757.5,570.8L758.4,573.9L749.3,571.2ZM753.6,575.4L762.7,578.1L763.6,581.2L754.5,578.5ZM758.8,582.7L767.9,585.4L768.8,588.5L759.7,585.8ZM764,590L773.1,592.7L774,595.8L764.9,593.1ZM769.2,597.3L778.3,600L779.2,603.1L770.1,600.4ZM774.4,604.6L783.5,607.3L784.4,610.4L775.3,607.7ZM779.6,611.9L788.7,614.6L789.6,617.7L780.5,615ZM784.8,619.2L793.9,621.9L794.8,625L785.7,622.3ZM790,626.5L799.1,629.2L800,632.3L790.9,629.6ZM795.2,633.8L804.3,636.5L805.2,639.6L796.1,636.9ZM738.8,537.1L747.9,539.8L748.8,542.9L739.7,540.2ZM744,544.4L753.1,547.1L754,550.2L744.9,547.5ZM749.2,551.7L758.3,554.4L759.2,557.5L750.1,554.8ZM754.4,559L763.5,561.7L764.4,564.8L755.3,562.1ZM759.6,566.3L768.7,569L769.6,572.1L760.5,569.4ZM764.8,573.6L773.9,576.3L774.8,579.4L765.7,576.7ZM770,580.9L779.1,583.6L780,586.7L770.9,584ZM775.2,588.2L784.3,590.9L785.2,594L776.1,591.3ZM780.4,595.5L789.5,598.2L790.4,601.3L781.3,598.6ZM785.6,602.8L794.7,605.5L795.6,608.6L786.5,605.9ZM790.8,610.1L799.9,612.8L800.8,615.9L791.7,613.2ZM796,617.4L805.1,620.1L806,623.2L796.9,620.5ZM801.2,624.7L810.3,627.4L811.2,630.5L802.1,627.8ZM806.4,632L815.5,634.7L816.4,637.8L807.3,635.1ZM750,535.3L759.1,538L760,541.1L750.9,538.4ZM755.2,542.6L764.3,545.3L765.2,548.4L756.1,545.7ZM760.4,549.9L769.5,552.6L770.4,555.7L761.3,553ZM765.6,557.2L774.7,559.9L775.6,563L766.5,560.3ZM770.8,564.5L779.9,567.2L780.8,570.3L771.7,567.6ZM776,571.8L785.1,574.5L786,577.6L776.9,574.9ZM781.2,579.1L790.3,581.8L791.2,584.9L782.1,582.2ZM786.4,586.4L795.5,589.1L796.4,592.2L787.3,589.5ZM791.6,593.7L800.7,596.4L801.6,599.5L792.5,596.8ZM796.8,601L805.9,603.7L806.8,606.8L797.7,604.1ZM802,608.3L811.1,611L812,614.1L802.9,611.4ZM807.2,615.6L816.3,618.3L817.2,621.4L808.1,618.7ZM812.4,622.9L821.5,625.6L822.4,628.7L813.3,626ZM817.6,630.2L826.7,632.9L827.6,636L818.5,633.3ZM761.2,533.5L770.3,536.2L771.2,539.3L762.1,536.6ZM766.4,540.8L775.5,543.5L776.4,546.6L767.3,543.9ZM771.6,548.1L780.7,550.8L781.6,553.9L772.5,551.2ZM776.8,555.4L785.9,558.1L786.8,561.2L777.7,558.5ZM782,562.7L791.1,565.4L792,568.5L782.9,565.8ZM787.2,570L796.3,572.7L797.2,575.8L788.1,573.1ZM792.4,577.3L801.5,580L802.4,583.1L793.3,580.4ZM797.6,584.6L806.7,587.3L807.6,590.4L798.5,587.7ZM802.8,591.9L811.9,594.6L812.8,597.7L803.7,595ZM808,599.2L817.1,601.9L818,605L808.9,602.3ZM813.2,606.5L822.3,609.2L823.2,612.3L814.1,609.6ZM818.4,613.8L827.5,616.5L828.4,619.6L819.3,616.9ZM823.6,621.1L832.7,623.8L833.6,626.9L824.5,624.2ZM828.8,628.4L837.9,631.1L838.8,634.2L829.7,631.5ZM772.4,531.7L781.5,534.4L782.4,537.5L773.3,534.8ZM777.6,539L786.7,541.7L787.6,544.8L778.5,542.1ZM782.8,546.3L791.9,549L792.8,552.1L783.7,549.4ZM788,553.6L797.1,556.3L798,559.4L788.9,556.7ZM793.2,560.9L802.3,563.6L803.2,566.7L794.1,564ZM798.4,568.2L807.5,570.9L808.4,574L799.3,571.3ZM803.6,575.5L812.7,578.2L813.6,581.3L804.5,578.6ZM808.8,582.8L817.9,585.5L818.8,588.6L809.7,585.9ZM814,590.1L823.1,592.8L824,595.9L814.9,593.2ZM819.2,597.4L828.3,600.1L829.2,603.2L820.1,600.5ZM824.4,604.7L833.5,607.4L834.4,610.5L825.3,607.8ZM829.6,612L838.7,614.7L839.6,617.8L830.5,615.1ZM834.8,619.3L843.9,622L844.8,625.1L835.7,622.4ZM840,626.6L849.1,629.3L850,632.4L840.9,629.7ZM845.2,633.9L854.3,636.6L855.2,639.7L846.1,637ZM788.8,537.2L797.9,539.9L798.8,543L789.7,540.3ZM794,544.5L803.1,547.2L804,550.3L794.9,547.6ZM799.2,551.8L808.3,554.5L809.2,557.6L800.1,554.9ZM804.4,559.1L813.5,561.8L814.4,564.9L805.3,562.2ZM809.6,566.4L818.7,569.1L819.6,572.2L810.5,569.5ZM814.8,573.7L823.9,576.4L824.8,579.5L815.7,576.8ZM820,581L829.1,583.7L830,586.8L820.9,584.1ZM825.2,588.3L834.3,591L835.2,594.1L826.1,591.4ZM830.4,595.6L839.5,598.3L840.4,601.4L831.3,598.7ZM835.6,602.9L844.7,605.6L845.6,608.7L836.5,606ZM840.8,610.2L849.9,612.9L850.8,616L841.7,613.3ZM846,617.5L855.1,620.2L856,623.3L846.9,620.6ZM851.2,624.8L860.3,627.5L861.2,630.6L852.1,627.9ZM856.4,632.1L865.5,634.8L866.4,637.9L857.3,635.2ZM800,535.4L809.1,538.1L810,541.2L800.9,538.5ZM805.2,542.7L814.3,545.4L815.2,548.5L806.1,545.8ZM810.4,550L819.5,552.7L820.4,555.8L811.3,553.1ZM815.6,557.3L824.7,560L825.6,563.1L816.5,560.4ZM820.8,564.6L829.9,567.3L830.8,570.4L821.7,567.7ZM826,571.9L835.1,574.6L836,577.7L826.9,575ZM831.2,579.2L840.3,581.9L841.2,585L832.1,582.3ZM836.4,586.5L845.5,589.2L846.4,592.3L837.3,589.6ZM841.6,593.8L850.7,596.5L851.6,599.6L842.5,596.9ZM846.8,601.1L855.9,603.8L856.8,606.9L847.7,604.2ZM852,608.4L861.1,611.1L862,614.2L852.9,611.5ZM857.2,615.7L866.3,618.4L867.2,621.5L858.1,618.8ZM862.4,623L871.5,625.7L872.4,628.8L863.3,626.1ZM867.6,630.3L876.7,633L877.6,636.1L868.5,633.4ZM811.2,533.6L820.3,536.3L821.2,539.4L812.1,536.7ZM816.4,540.9L825.5,543.6L826.4,546.7L817.3,544ZM821.6,548.2L830.7,550.9L831.6,554L822.5,551.3ZM826.8,555.5L835.9,558.2L836.8,561.3L827.7,558.6ZM832,562.8L841.1,565.5L842,568.6L832.9,565.9ZM837.2,570.1L846.3,572.8L847.2,575.9L838.1,573.2ZM842.4,577.4L851.5,580.1L852.4,583.2L843.3,580.5ZM847.6,584.7L856.7,587.4L857.6,590.5L848.5,587.8ZM852.8,592L861.9,594.7L862.8,597.8L853.7,595.1ZM858,599.3L867.1,602L868,605.1L858.9,602.4ZM863.2,606.6L872.3,609.3L873.2,612.4L864.1,609.7ZM868.4,613.9L877.5,616.6L878.4,619.7L869.3,617ZM873.6,621.2L882.7,623.9L883.6,627L874.5,624.3ZM878.8,628.5L887.9,631.2L888.8,634.3L879.7,631.6ZM822.4,531.8L831.5,534.5L832.4,537.6L823.3,534.9ZM827.6,539.1L836.7,541.8L837.6,544.9L828.5,542.2ZM832.8,546.4L841.9,549.1L842.8,552.2L833.7,549.5ZM838,553.7L847.1,556.4L848,559.5L838.9,556.8ZM843.2,561L852.3,563.7L853.2,566.8L844.1,564.1ZM848.4,568.3L857.5,571L858.4,574.1L849.3,571.4ZM853.6,575.6L862.7,578.3L863.6,581.4L854.5,578.7ZM858.8,582.9L867.9,585.6L868.8,588.7L859.7,586ZM864,590.2L873.1,592.9L874,596L864.9,593.3ZM869.2,597.5L878.3,600.2L879.2,603.3L870.1,600.6ZM874.4,604.8L883.5,607.5L884.4,610.6L875.3,607.9ZM879.6,612.1L888.7,614.8L889.6,617.9L880.5,615.2ZM884.8,619.4L893.9,622.1L894.8,625.2L885.7,622.5ZM838.8,537.3L847.9,540L848.8,543.1L839.7,540.4ZM844,544.6L853.1,547.3L854,550.4L844.9,547.7ZM849.2,551.9L858.3,554.6L859.2,557.7L850.1,555ZM854.4,559.2L863.5,561.9L864.4,565L855.3,562.3ZM859.6,566.5L868.7,569.2L869.6,572.3L860.5,569.6ZM864.8,573.8L873.9,576.5L874.8,579.6L865.7,576.9ZM870,581.1L879.1,583.8L880,586.9L870.9,584.2ZM875.2,588.4L884.3,591.1L885.2,594.2L876.1,591.5ZM880.4,595.7L889.5,598.4L890.4,601.5L881.3,598.8ZM885.6,603L894.7,605.7L895.6,608.8L886.5,606.1ZM850,535.5L859.1,538.2L860,541.3L850.9,538.6ZM855.2,542.8L864.3,545.5L865.2,548.6L856.1,545.9ZM860.4,550.1L869.5,552.8L870.4,555.9L861.3,553.2ZM865.6,557.4L874.7,560.1L875.6,563.2L866.5,560.5ZM870.8,564.7L879.9,567.4L880.8,570.5L871.7,567.8ZM876,572L885.1,574.7L886,577.8L876.9,575.1ZM881.2,579.3L890.3,582L891.2,585.1L882.1,582.4ZM886.4,586.6L895.5,589.3L896.4,592.4L887.3,589.7ZM861.2,533.7L870.3,536.4L871.2,539.5L862.1,536.8ZM866.4,541L875.5,543.7L876.4,546.8L867.3,544.1ZM871.6,548.3L880.7,551L881.6,554.1L872.5,551.4ZM876.8,555.6L885.9,558.3L886.8,561.4L877.7,558.7ZM882,562.9L891.1,565.6L892,568.7L882.9,566ZM887.2,570.2L896.3,572.9L897.2,576L888.1,573.3ZM872.4,531.9L881.5,534.6L882.4,537.7L873.3,535ZM877.6,539.2L886.7,541.9L887.6,545L878.5,542.3ZM882.8,546.5L891.9,549.2L892.8,552.3L883.7,549.6ZM888,553.8L897.1,556.5L898,559.6L888.9,556.9ZM888.8,537.4L897.9,540.1L898.8,543.2L889.7,540.5Z" fill="#fff"/><path clip-path="url(#cs2)" d="M336.19,544.49L1126.05,417.55M341.39,551.79L1131.25,424.85M346.59,559.09L1136.45,432.15M351.79,566.39L1141.65,439.45M356.99,573.69L1146.85,446.75M362.19,580.99L1152.05,454.05M367.39,588.29L1157.25,461.35M372.59,595.59L1162.45,468.65M377.79,602.89L1167.65,475.95M382.99,610.19L1172.85,483.25M388.19,617.49L1178.05,490.55M393.39,624.79L1183.25,497.85M398.59,632.09L1188.45,505.15M403.79,639.39L1193.65,512.45M408.99,646.69L1198.85,519.75M414.19,653.99L1204.05,527.05M419.39,661.29L1209.25,534.35M424.59,668.59L1214.45,541.65M429.79,675.89L1219.65,548.95M434.99,683.19L1224.85,556.25M440.19,690.49L1230.05,563.55M445.39,697.79L1235.25,570.85M450.59,705.09L1240.45,578.15M455.79,712.39L1245.65,585.45M460.99,719.69L1250.85,592.75M466.19,726.99L1256.05,600.05M471.39,734.29L1261.25,607.35M476.59,741.59L1266.45,614.65M481.79,748.89L1271.65,621.95M486.99,756.19L1276.85,629.25" stroke="#b0b0b0" stroke-width="1" stroke-dasharray="5.5 5.84" fill="none"/><path d="M743.4,542.6 L760.6,542.6 A4.4,4.4 0 0 1 760.6,551.4 L743.4,551.4 A4.4,4.4 0 0 1 743.4,542.6 Z" fill="#fff" stroke="#000" stroke-width="2.6"/><path d="M743.4,542.6 L760.6,542.6 A4.4,4.4 0 0 1 760.6,551.4 L743.4,551.4 A4.4,4.4 0 0 1 743.4,542.6 Z" fill="none" stroke="#fff" stroke-width="0.6"/><path d="M774.65,553.8 L791.85,553.8 A4.4,4.4 0 0 1 791.85,562.6 L774.65,562.6 A4.4,4.4 0 0 1 774.65,553.8 Z" fill="#fff" stroke="#000" stroke-width="2.6"/><path d="M774.65,553.8 L791.85,553.8 A4.4,4.4 0 0 1 791.85,562.6 L774.65,562.6 A4.4,4.4 0 0 1 774.65,553.8 Z" fill="none" stroke="#fff" stroke-width="0.6"/><path d="M806.7,565.1 L823.9,565.1 A4.4,4.4 0 0 1 823.9,573.9 L806.7,573.9 A4.4,4.4 0 0 1 806.7,565.1 Z" fill="#fff" stroke="#000" stroke-width="2.6"/><path d="M806.7,565.1 L823.9,565.1 A4.4,4.4 0 0 1 823.9,573.9 L806.7,573.9 A4.4,4.4 0 0 1 806.7,565.1 Z" fill="none" stroke="#fff" stroke-width="0.6"/><path d="M840.3,577 L857.5,577 A4.4,4.4 0 0 1 857.5,585.8 L840.3,585.8 A4.4,4.4 0 0 1 840.3,577 Z" fill="#fff" stroke="#000" stroke-width="2.6"/><path d="M840.3,577 L857.5,577 A4.4,4.4 0 0 1 857.5,585.8 L840.3,585.8 A4.4,4.4 0 0 1 840.3,577 Z" fill="none" stroke="#fff" stroke-width="0.6"/><path d="M870.7,587.6 L887.9,587.6 A4.4,4.4 0 0 1 887.9,596.4 L870.7,596.4 A4.4,4.4 0 0 1 870.7,587.6 Z" fill="#fff" stroke="#000" stroke-width="2.6"/><path d="M870.7,587.6 L887.9,587.6 A4.4,4.4 0 0 1 887.9,596.4 L870.7,596.4 A4.4,4.4 0 0 1 870.7,587.6 Z" fill="none" stroke="#fff" stroke-width="0.6"/><path d="M551.6,580.8 L572.8,580.8 A4.4,4.4 0 0 1 572.8,589.6 L551.6,589.6 A4.4,4.4 0 0 1 551.6,580.8 Z" fill="#fff" stroke="#000" stroke-width="2.6"/><path d="M551.6,580.8 L572.8,580.8 A4.4,4.4 0 0 1 572.8,589.6 L551.6,589.6 A4.4,4.4 0 0 1 551.6,580.8 Z" fill="none" stroke="#fff" stroke-width="0.6"/><path d="M577.9,592.3 L599.1,592.3 A4.4,4.4 0 0 1 599.1,601.1 L577.9,601.1 A4.4,4.4 0 0 1 577.9,592.3 Z" fill="#fff" stroke="#000" stroke-width="2.6"/><path d="M577.9,592.3 L599.1,592.3 A4.4,4.4 0 0 1 599.1,601.1 L577.9,601.1 A4.4,4.4 0 0 1 577.9,592.3 Z" fill="none" stroke="#fff" stroke-width="0.6"/><path d="M609.6,604.6 L630.8,604.6 A4.4,4.4 0 0 1 630.8,613.4 L609.6,613.4 A4.4,4.4 0 0 1 609.6,604.6 Z" fill="#fff" stroke="#000" stroke-width="2.6"/><path d="M609.6,604.6 L630.8,604.6 A4.4,4.4 0 0 1 630.8,613.4 L609.6,613.4 A4.4,4.4 0 0 1 609.6,604.6 Z" fill="none" stroke="#fff" stroke-width="0.6"/><path d="M642.1,616 L663.3,616 A4.4,4.4 0 0 1 663.3,624.8 L642.1,624.8 A4.4,4.4 0 0 1 642.1,616 Z" fill="#fff" stroke="#000" stroke-width="2.6"/><path d="M642.1,616 L663.3,616 A4.4,4.4 0 0 1 663.3,624.8 L642.1,624.8 A4.4,4.4 0 0 1 642.1,616 Z" fill="none" stroke="#fff" stroke-width="0.6"/><path d="M524,584 Q527,576.2 540,574.6 L744,542.4" fill="none" stroke="#000" stroke-width="2.8" stroke-linejoin="round" stroke-linecap="butt"/><path d="M524,584 Q527,576.2 540,574.6 L744,542.4" fill="none" stroke="#fff" stroke-width="0.6" stroke-linejoin="round"/><path d="M521.5,568 L521.5,574 Q522.5,579 526,581.5 Q529,586 534,587.3 L654,628.5 Q662,631.4 672,630.2 L886,595.6" fill="none" stroke="#000" stroke-width="3.5" stroke-linejoin="round" stroke-linecap="butt"/><path d="M521.5,568 L521.5,574 Q522.5,579 526,581.5 Q529,586 534,587.3 L654,628.5 Q662,631.4 672,630.2 L886,595.6" fill="none" stroke="#fff" stroke-width="1.1" stroke-linejoin="round"/><clipPath id="cs3"><polygon points="549.5,720 741,689.8 750,690.4 750,694.4 757,697 781.25,701.6 781.25,705.6 788.25,708.2 813.3,712.9 813.3,716.9 820.3,719.5 846.9,724.8 846.9,728.8 853.9,731.4 877.3,735.4 877.3,739.4 884.3,742 880,740.6 676,773.4 668,770.6 652,768 652.7,767.8 652.7,763.8 620.2,756.4 620.2,752.4 588.5,744.1 588.5,740.1 562.2,732.6 562.2,728.6"/></clipPath><polygon points="549.5,720 741,689.8 750,690.4 750,694.4 757,697 781.25,701.6 781.25,705.6 788.25,708.2 813.3,712.9 813.3,716.9 820.3,719.5 846.9,724.8 846.9,728.8 853.9,731.4 877.3,735.4 877.3,739.4 884.3,742 880,740.6 676,773.4 668,770.6 652,768 652.7,767.8 652.7,763.8 620.2,756.4 620.2,752.4 588.5,744.1 588.5,740.1 562.2,732.6 562.2,728.6" fill="#2a2a2a" stroke="#111" stroke-width="1.0"/><path clip-path="url(#cs3)" d="M534.8,764.1L543.9,766.8L544.8,769.9L535.7,767.2ZM540,771.4L549.1,774.1L550,777.2L540.9,774.5ZM545.2,778.7L554.3,781.4L555.2,784.5L546.1,781.8ZM535.6,747.7L544.7,750.4L545.6,753.5L536.5,750.8ZM540.8,755L549.9,757.7L550.8,760.8L541.7,758.1ZM546,762.3L555.1,765L556,768.1L546.9,765.4ZM551.2,769.6L560.3,772.3L561.2,775.4L552.1,772.7ZM556.4,776.9L565.5,779.6L566.4,782.7L557.3,780ZM536.4,731.3L545.5,734L546.4,737.1L537.3,734.4ZM541.6,738.6L550.7,741.3L551.6,744.4L542.5,741.7ZM546.8,745.9L555.9,748.6L556.8,751.7L547.7,749ZM552,753.2L561.1,755.9L562,759L552.9,756.3ZM557.2,760.5L566.3,763.2L567.2,766.3L558.1,763.6ZM562.4,767.8L571.5,770.5L572.4,773.6L563.3,770.9ZM567.6,775.1L576.7,777.8L577.6,780.9L568.5,778.2ZM537.2,714.9L546.3,717.6L547.2,720.7L538.1,718ZM542.4,722.2L551.5,724.9L552.4,728L543.3,725.3ZM547.6,729.5L556.7,732.2L557.6,735.3L548.5,732.6ZM552.8,736.8L561.9,739.5L562.8,742.6L553.7,739.9ZM558,744.1L567.1,746.8L568,749.9L558.9,747.2ZM563.2,751.4L572.3,754.1L573.2,757.2L564.1,754.5ZM568.4,758.7L577.5,761.4L578.4,764.5L569.3,761.8ZM573.6,766L582.7,768.7L583.6,771.8L574.5,769.1ZM578.8,773.3L587.9,776L588.8,779.1L579.7,776.4ZM538,698.5L547.1,701.2L548,704.3L538.9,701.6ZM543.2,705.8L552.3,708.5L553.2,711.6L544.1,708.9ZM548.4,713.1L557.5,715.8L558.4,718.9L549.3,716.2ZM553.6,720.4L562.7,723.1L563.6,726.2L554.5,723.5ZM558.8,727.7L567.9,730.4L568.8,733.5L559.7,730.8ZM564,735L573.1,737.7L574,740.8L564.9,738.1ZM569.2,742.3L578.3,745L579.2,748.1L570.1,745.4ZM574.4,749.6L583.5,752.3L584.4,755.4L575.3,752.7ZM579.6,756.9L588.7,759.6L589.6,762.7L580.5,760ZM584.8,764.2L593.9,766.9L594.8,770L585.7,767.3ZM590,771.5L599.1,774.2L600,777.3L590.9,774.6ZM595.2,778.8L604.3,781.5L605.2,784.6L596.1,781.9ZM538.8,682.1L547.9,684.8L548.8,687.9L539.7,685.2ZM544,689.4L553.1,692.1L554,695.2L544.9,692.5ZM549.2,696.7L558.3,699.4L559.2,702.5L550.1,699.8ZM554.4,704L563.5,706.7L564.4,709.8L555.3,707.1ZM559.6,711.3L568.7,714L569.6,717.1L560.5,714.4ZM564.8,718.6L573.9,721.3L574.8,724.4L565.7,721.7ZM570,725.9L579.1,728.6L580,731.7L570.9,729ZM575.2,733.2L584.3,735.9L585.2,739L576.1,736.3ZM580.4,740.5L589.5,743.2L590.4,746.3L581.3,743.6ZM585.6,747.8L594.7,750.5L595.6,753.6L586.5,750.9ZM590.8,755.1L599.9,757.8L600.8,760.9L591.7,758.2ZM596,762.4L605.1,765.1L606,768.2L596.9,765.5ZM601.2,769.7L610.3,772.4L611.2,775.5L602.1,772.8ZM606.4,777L615.5,779.7L616.4,782.8L607.3,780.1ZM550,680.3L559.1,683L560,686.1L550.9,683.4ZM555.2,687.6L564.3,690.3L565.2,693.4L556.1,690.7ZM560.4,694.9L569.5,697.6L570.4,700.7L561.3,698ZM565.6,702.2L574.7,704.9L575.6,708L566.5,705.3ZM570.8,709.5L579.9,712.2L580.8,715.3L571.7,712.6ZM576,716.8L585.1,719.5L586,722.6L576.9,719.9ZM581.2,724.1L590.3,726.8L591.2,729.9L582.1,727.2ZM586.4,731.4L595.5,734.1L596.4,737.2L587.3,734.5ZM591.6,738.7L600.7,741.4L601.6,744.5L592.5,741.8ZM596.8,746L605.9,748.7L606.8,751.8L597.7,749.1ZM602,753.3L611.1,756L612,759.1L602.9,756.4ZM607.2,760.6L616.3,763.3L617.2,766.4L608.1,763.7ZM612.4,767.9L621.5,770.6L622.4,773.7L613.3,771ZM617.6,775.2L626.7,777.9L627.6,781L618.5,778.3ZM561.2,678.5L570.3,681.2L571.2,684.3L562.1,681.6ZM566.4,685.8L575.5,688.5L576.4,691.6L567.3,688.9ZM571.6,693.1L580.7,695.8L581.6,698.9L572.5,696.2ZM576.8,700.4L585.9,703.1L586.8,706.2L577.7,703.5ZM582,707.7L591.1,710.4L592,713.5L582.9,710.8ZM587.2,715L596.3,717.7L597.2,720.8L588.1,718.1ZM592.4,722.3L601.5,725L602.4,728.1L593.3,725.4ZM597.6,729.6L606.7,732.3L607.6,735.4L598.5,732.7ZM602.8,736.9L611.9,739.6L612.8,742.7L603.7,740ZM608,744.2L617.1,746.9L618,750L608.9,747.3ZM613.2,751.5L622.3,754.2L623.2,757.3L614.1,754.6ZM618.4,758.8L627.5,761.5L628.4,764.6L619.3,761.9ZM623.6,766.1L632.7,768.8L633.6,771.9L624.5,769.2ZM628.8,773.4L637.9,776.1L638.8,779.2L629.7,776.5ZM577.6,684L586.7,686.7L587.6,689.8L578.5,687.1ZM582.8,691.3L591.9,694L592.8,697.1L583.7,694.4ZM588,698.6L597.1,701.3L598,704.4L588.9,701.7ZM593.2,705.9L602.3,708.6L603.2,711.7L594.1,709ZM598.4,713.2L607.5,715.9L608.4,719L599.3,716.3ZM603.6,720.5L612.7,723.2L613.6,726.3L604.5,723.6ZM608.8,727.8L617.9,730.5L618.8,733.6L609.7,730.9ZM614,735.1L623.1,737.8L624,740.9L614.9,738.2ZM619.2,742.4L628.3,745.1L629.2,748.2L620.1,745.5ZM624.4,749.7L633.5,752.4L634.4,755.5L625.3,752.8ZM629.6,757L638.7,759.7L639.6,762.8L630.5,760.1ZM634.8,764.3L643.9,767L644.8,770.1L635.7,767.4ZM640,771.6L649.1,774.3L650,777.4L640.9,774.7ZM645.2,778.9L654.3,781.6L655.2,784.7L646.1,782ZM588.8,682.2L597.9,684.9L598.8,688L589.7,685.3ZM594,689.5L603.1,692.2L604,695.3L594.9,692.6ZM599.2,696.8L608.3,699.5L609.2,702.6L600.1,699.9ZM604.4,704.1L613.5,706.8L614.4,709.9L605.3,707.2ZM609.6,711.4L618.7,714.1L619.6,717.2L610.5,714.5ZM614.8,718.7L623.9,721.4L624.8,724.5L615.7,721.8ZM620,726L629.1,728.7L630,731.8L620.9,729.1ZM625.2,733.3L634.3,736L635.2,739.1L626.1,736.4ZM630.4,740.6L639.5,743.3L640.4,746.4L631.3,743.7ZM635.6,747.9L644.7,750.6L645.6,753.7L636.5,751ZM640.8,755.2L649.9,757.9L650.8,761L641.7,758.3ZM646,762.5L655.1,765.2L656,768.3L646.9,765.6ZM651.2,769.8L660.3,772.5L661.2,775.6L652.1,772.9ZM656.4,777.1L665.5,779.8L666.4,782.9L657.3,780.2ZM600,680.4L609.1,683.1L610,686.2L600.9,683.5ZM605.2,687.7L614.3,690.4L615.2,693.5L606.1,690.8ZM610.4,695L619.5,697.7L620.4,700.8L611.3,698.1ZM615.6,702.3L624.7,705L625.6,708.1L616.5,705.4ZM620.8,709.6L629.9,712.3L630.8,715.4L621.7,712.7ZM626,716.9L635.1,719.6L636,722.7L626.9,720ZM631.2,724.2L640.3,726.9L641.2,730L632.1,727.3ZM636.4,731.5L645.5,734.2L646.4,737.3L637.3,734.6ZM641.6,738.8L650.7,741.5L651.6,744.6L642.5,741.9ZM646.8,746.1L655.9,748.8L656.8,751.9L647.7,749.2ZM652,753.4L661.1,756.1L662,759.2L652.9,756.5ZM657.2,760.7L666.3,763.4L667.2,766.5L658.1,763.8ZM662.4,768L671.5,770.7L672.4,773.8L663.3,771.1ZM667.6,775.3L676.7,778L677.6,781.1L668.5,778.4ZM611.2,678.6L620.3,681.3L621.2,684.4L612.1,681.7ZM616.4,685.9L625.5,688.6L626.4,691.7L617.3,689ZM621.6,693.2L630.7,695.9L631.6,699L622.5,696.3ZM626.8,700.5L635.9,703.2L636.8,706.3L627.7,703.6ZM632,707.8L641.1,710.5L642,713.6L632.9,710.9ZM637.2,715.1L646.3,717.8L647.2,720.9L638.1,718.2ZM642.4,722.4L651.5,725.1L652.4,728.2L643.3,725.5ZM647.6,729.7L656.7,732.4L657.6,735.5L648.5,732.8ZM652.8,737L661.9,739.7L662.8,742.8L653.7,740.1ZM658,744.3L667.1,747L668,750.1L658.9,747.4ZM663.2,751.6L672.3,754.3L673.2,757.4L664.1,754.7ZM668.4,758.9L677.5,761.6L678.4,764.7L669.3,762ZM673.6,766.2L682.7,768.9L683.6,772L674.5,769.3ZM678.8,773.5L687.9,776.2L688.8,779.3L679.7,776.6ZM627.6,684.1L636.7,686.8L637.6,689.9L628.5,687.2ZM632.8,691.4L641.9,694.1L642.8,697.2L633.7,694.5ZM638,698.7L647.1,701.4L648,704.5L638.9,701.8ZM643.2,706L652.3,708.7L653.2,711.8L644.1,709.1ZM648.4,713.3L657.5,716L658.4,719.1L649.3,716.4ZM653.6,720.6L662.7,723.3L663.6,726.4L654.5,723.7ZM658.8,727.9L667.9,730.6L668.8,733.7L659.7,731ZM664,735.2L673.1,737.9L674,741L664.9,738.3ZM669.2,742.5L678.3,745.2L679.2,748.3L670.1,745.6ZM674.4,749.8L683.5,752.5L684.4,755.6L675.3,752.9ZM679.6,757.1L688.7,759.8L689.6,762.9L680.5,760.2ZM684.8,764.4L693.9,767.1L694.8,770.2L685.7,767.5ZM690,771.7L699.1,774.4L700,777.5L690.9,774.8ZM695.2,779L704.3,781.7L705.2,784.8L696.1,782.1ZM638.8,682.3L647.9,685L648.8,688.1L639.7,685.4ZM644,689.6L653.1,692.3L654,695.4L644.9,692.7ZM649.2,696.9L658.3,699.6L659.2,702.7L650.1,700ZM654.4,704.2L663.5,706.9L664.4,710L655.3,707.3ZM659.6,711.5L668.7,714.2L669.6,717.3L660.5,714.6ZM664.8,718.8L673.9,721.5L674.8,724.6L665.7,721.9ZM670,726.1L679.1,728.8L680,731.9L670.9,729.2ZM675.2,733.4L684.3,736.1L685.2,739.2L676.1,736.5ZM680.4,740.7L689.5,743.4L690.4,746.5L681.3,743.8ZM685.6,748L694.7,750.7L695.6,753.8L686.5,751.1ZM690.8,755.3L699.9,758L700.8,761.1L691.7,758.4ZM696,762.6L705.1,765.3L706,768.4L696.9,765.7ZM701.2,769.9L710.3,772.6L711.2,775.7L702.1,773ZM706.4,777.2L715.5,779.9L716.4,783L707.3,780.3ZM650,680.5L659.1,683.2L660,686.3L650.9,683.6ZM655.2,687.8L664.3,690.5L665.2,693.6L656.1,690.9ZM660.4,695.1L669.5,697.8L670.4,700.9L661.3,698.2ZM665.6,702.4L674.7,705.1L675.6,708.2L666.5,705.5ZM670.8,709.7L679.9,712.4L680.8,715.5L671.7,712.8ZM676,717L685.1,719.7L686,722.8L676.9,720.1ZM681.2,724.3L690.3,727L691.2,730.1L682.1,727.4ZM686.4,731.6L695.5,734.3L696.4,737.4L687.3,734.7ZM691.6,738.9L700.7,741.6L701.6,744.7L692.5,742ZM696.8,746.2L705.9,748.9L706.8,752L697.7,749.3ZM702,753.5L711.1,756.2L712,759.3L702.9,756.6ZM707.2,760.8L716.3,763.5L717.2,766.6L708.1,763.9ZM712.4,768.1L721.5,770.8L722.4,773.9L713.3,771.2ZM717.6,775.4L726.7,778.1L727.6,781.2L718.5,778.5ZM661.2,678.7L670.3,681.4L671.2,684.5L662.1,681.8ZM666.4,686L675.5,688.7L676.4,691.8L667.3,689.1ZM671.6,693.3L680.7,696L681.6,699.1L672.5,696.4ZM676.8,700.6L685.9,703.3L686.8,706.4L677.7,703.7ZM682,707.9L691.1,710.6L692,713.7L682.9,711ZM687.2,715.2L696.3,717.9L697.2,721L688.1,718.3ZM692.4,722.5L701.5,725.2L702.4,728.3L693.3,725.6ZM697.6,729.8L706.7,732.5L707.6,735.6L698.5,732.9ZM702.8,737.1L711.9,739.8L712.8,742.9L703.7,740.2ZM708,744.4L717.1,747.1L718,750.2L708.9,747.5ZM713.2,751.7L722.3,754.4L723.2,757.5L714.1,754.8ZM718.4,759L727.5,761.7L728.4,764.8L719.3,762.1ZM723.6,766.3L732.7,769L733.6,772.1L724.5,769.4ZM728.8,773.6L737.9,776.3L738.8,779.4L729.7,776.7ZM672.4,676.9L681.5,679.6L682.4,682.7L673.3,680ZM677.6,684.2L686.7,686.9L687.6,690L678.5,687.3ZM682.8,691.5L691.9,694.2L692.8,697.3L683.7,694.6ZM688,698.8L697.1,701.5L698,704.6L688.9,701.9ZM693.2,706.1L702.3,708.8L703.2,711.9L694.1,709.2ZM698.4,713.4L707.5,716.1L708.4,719.2L699.3,716.5ZM703.6,720.7L712.7,723.4L713.6,726.5L704.5,723.8ZM708.8,728L717.9,730.7L718.8,733.8L709.7,731.1ZM714,735.3L723.1,738L724,741.1L714.9,738.4ZM719.2,742.6L728.3,745.3L729.2,748.4L720.1,745.7ZM724.4,749.9L733.5,752.6L734.4,755.7L725.3,753ZM729.6,757.2L738.7,759.9L739.6,763L730.5,760.3ZM734.8,764.5L743.9,767.2L744.8,770.3L735.7,767.6ZM740,771.8L749.1,774.5L750,777.6L740.9,774.9ZM745.2,779.1L754.3,781.8L755.2,784.9L746.1,782.2ZM688.8,682.4L697.9,685.1L698.8,688.2L689.7,685.5ZM694,689.7L703.1,692.4L704,695.5L694.9,692.8ZM699.2,697L708.3,699.7L709.2,702.8L700.1,700.1ZM704.4,704.3L713.5,707L714.4,710.1L705.3,707.4ZM709.6,711.6L718.7,714.3L719.6,717.4L710.5,714.7ZM714.8,718.9L723.9,721.6L724.8,724.7L715.7,722ZM720,726.2L729.1,728.9L730,732L720.9,729.3ZM725.2,733.5L734.3,736.2L735.2,739.3L726.1,736.6ZM730.4,740.8L739.5,743.5L740.4,746.6L731.3,743.9ZM735.6,748.1L744.7,750.8L745.6,753.9L736.5,751.2ZM740.8,755.4L749.9,758.1L750.8,761.2L741.7,758.5ZM746,762.7L755.1,765.4L756,768.5L746.9,765.8ZM751.2,770L760.3,772.7L761.2,775.8L752.1,773.1ZM756.4,777.3L765.5,780L766.4,783.1L757.3,780.4ZM700,680.6L709.1,683.3L710,686.4L700.9,683.7ZM705.2,687.9L714.3,690.6L715.2,693.7L706.1,691ZM710.4,695.2L719.5,697.9L720.4,701L711.3,698.3ZM715.6,702.5L724.7,705.2L725.6,708.3L716.5,705.6ZM720.8,709.8L729.9,712.5L730.8,715.6L721.7,712.9ZM726,717.1L735.1,719.8L736,722.9L726.9,720.2ZM731.2,724.4L740.3,727.1L741.2,730.2L732.1,727.5ZM736.4,731.7L745.5,734.4L746.4,737.5L737.3,734.8ZM741.6,739L750.7,741.7L751.6,744.8L742.5,742.1ZM746.8,746.3L755.9,749L756.8,752.1L747.7,749.4ZM752,753.6L761.1,756.3L762,759.4L752.9,756.7ZM757.2,760.9L766.3,763.6L767.2,766.7L758.1,764ZM762.4,768.2L771.5,770.9L772.4,774L763.3,771.3ZM767.6,775.5L776.7,778.2L777.6,781.3L768.5,778.6ZM711.2,678.8L720.3,681.5L721.2,684.6L712.1,681.9ZM716.4,686.1L725.5,688.8L726.4,691.9L717.3,689.2ZM721.6,693.4L730.7,696.1L731.6,699.2L722.5,696.5ZM726.8,700.7L735.9,703.4L736.8,706.5L727.7,703.8ZM732,708L741.1,710.7L742,713.8L732.9,711.1ZM737.2,715.3L746.3,718L747.2,721.1L738.1,718.4ZM742.4,722.6L751.5,725.3L752.4,728.4L743.3,725.7ZM747.6,729.9L756.7,732.6L757.6,735.7L748.5,733ZM752.8,737.2L761.9,739.9L762.8,743L753.7,740.3ZM758,744.5L767.1,747.2L768,750.3L758.9,747.6ZM763.2,751.8L772.3,754.5L773.2,757.6L764.1,754.9ZM768.4,759.1L777.5,761.8L778.4,764.9L769.3,762.2ZM773.6,766.4L782.7,769.1L783.6,772.2L774.5,769.5ZM778.8,773.7L787.9,776.4L788.8,779.5L779.7,776.8ZM722.4,677L731.5,679.7L732.4,682.8L723.3,680.1ZM727.6,684.3L736.7,687L737.6,690.1L728.5,687.4ZM732.8,691.6L741.9,694.3L742.8,697.4L733.7,694.7ZM738,698.9L747.1,701.6L748,704.7L738.9,702ZM743.2,706.2L752.3,708.9L753.2,712L744.1,709.3ZM748.4,713.5L757.5,716.2L758.4,719.3L749.3,716.6ZM753.6,720.8L762.7,723.5L763.6,726.6L754.5,723.9ZM758.8,728.1L767.9,730.8L768.8,733.9L759.7,731.2ZM764,735.4L773.1,738.1L774,741.2L764.9,738.5ZM769.2,742.7L778.3,745.4L779.2,748.5L770.1,745.8ZM774.4,750L783.5,752.7L784.4,755.8L775.3,753.1ZM779.6,757.3L788.7,760L789.6,763.1L780.5,760.4ZM784.8,764.6L793.9,767.3L794.8,770.4L785.7,767.7ZM790,771.9L799.1,774.6L800,777.7L790.9,775ZM795.2,779.2L804.3,781.9L805.2,785L796.1,782.3ZM738.8,682.5L747.9,685.2L748.8,688.3L739.7,685.6ZM744,689.8L753.1,692.5L754,695.6L744.9,692.9ZM749.2,697.1L758.3,699.8L759.2,702.9L750.1,700.2ZM754.4,704.4L763.5,707.1L764.4,710.2L755.3,707.5ZM759.6,711.7L768.7,714.4L769.6,717.5L760.5,714.8ZM764.8,719L773.9,721.7L774.8,724.8L765.7,722.1ZM770,726.3L779.1,729L780,732.1L770.9,729.4ZM775.2,733.6L784.3,736.3L785.2,739.4L776.1,736.7ZM780.4,740.9L789.5,743.6L790.4,746.7L781.3,744ZM785.6,748.2L794.7,750.9L795.6,754L786.5,751.3ZM790.8,755.5L799.9,758.2L800.8,761.3L791.7,758.6ZM796,762.8L805.1,765.5L806,768.6L796.9,765.9ZM801.2,770.1L810.3,772.8L811.2,775.9L802.1,773.2ZM806.4,777.4L815.5,780.1L816.4,783.2L807.3,780.5ZM750,680.7L759.1,683.4L760,686.5L750.9,683.8ZM755.2,688L764.3,690.7L765.2,693.8L756.1,691.1ZM760.4,695.3L769.5,698L770.4,701.1L761.3,698.4ZM765.6,702.6L774.7,705.3L775.6,708.4L766.5,705.7ZM770.8,709.9L779.9,712.6L780.8,715.7L771.7,713ZM776,717.2L785.1,719.9L786,723L776.9,720.3ZM781.2,724.5L790.3,727.2L791.2,730.3L782.1,727.6ZM786.4,731.8L795.5,734.5L796.4,737.6L787.3,734.9ZM791.6,739.1L800.7,741.8L801.6,744.9L792.5,742.2ZM796.8,746.4L805.9,749.1L806.8,752.2L797.7,749.5ZM802,753.7L811.1,756.4L812,759.5L802.9,756.8ZM807.2,761L816.3,763.7L817.2,766.8L808.1,764.1ZM812.4,768.3L821.5,771L822.4,774.1L813.3,771.4ZM817.6,775.6L826.7,778.3L827.6,781.4L818.5,778.7ZM761.2,678.9L770.3,681.6L771.2,684.7L762.1,682ZM766.4,686.2L775.5,688.9L776.4,692L767.3,689.3ZM771.6,693.5L780.7,696.2L781.6,699.3L772.5,696.6ZM776.8,700.8L785.9,703.5L786.8,706.6L777.7,703.9ZM782,708.1L791.1,710.8L792,713.9L782.9,711.2ZM787.2,715.4L796.3,718.1L797.2,721.2L788.1,718.5ZM792.4,722.7L801.5,725.4L802.4,728.5L793.3,725.8ZM797.6,730L806.7,732.7L807.6,735.8L798.5,733.1ZM802.8,737.3L811.9,740L812.8,743.1L803.7,740.4ZM808,744.6L817.1,747.3L818,750.4L808.9,747.7ZM813.2,751.9L822.3,754.6L823.2,757.7L814.1,755ZM818.4,759.2L827.5,761.9L828.4,765L819.3,762.3ZM823.6,766.5L832.7,769.2L833.6,772.3L824.5,769.6ZM828.8,773.8L837.9,776.5L838.8,779.6L829.7,776.9ZM772.4,677.1L781.5,679.8L782.4,682.9L773.3,680.2ZM777.6,684.4L786.7,687.1L787.6,690.2L778.5,687.5ZM782.8,691.7L791.9,694.4L792.8,697.5L783.7,694.8ZM788,699L797.1,701.7L798,704.8L788.9,702.1ZM793.2,706.3L802.3,709L803.2,712.1L794.1,709.4ZM798.4,713.6L807.5,716.3L808.4,719.4L799.3,716.7ZM803.6,720.9L812.7,723.6L813.6,726.7L804.5,724ZM808.8,728.2L817.9,730.9L818.8,734L809.7,731.3ZM814,735.5L823.1,738.2L824,741.3L814.9,738.6ZM819.2,742.8L828.3,745.5L829.2,748.6L820.1,745.9ZM824.4,750.1L833.5,752.8L834.4,755.9L825.3,753.2ZM829.6,757.4L838.7,760.1L839.6,763.2L830.5,760.5ZM834.8,764.7L843.9,767.4L844.8,770.5L835.7,767.8ZM840,772L849.1,774.7L850,777.8L840.9,775.1ZM845.2,779.3L854.3,782L855.2,785.1L846.1,782.4ZM788.8,682.6L797.9,685.3L798.8,688.4L789.7,685.7ZM794,689.9L803.1,692.6L804,695.7L794.9,693ZM799.2,697.2L808.3,699.9L809.2,703L800.1,700.3ZM804.4,704.5L813.5,707.2L814.4,710.3L805.3,707.6ZM809.6,711.8L818.7,714.5L819.6,717.6L810.5,714.9ZM814.8,719.1L823.9,721.8L824.8,724.9L815.7,722.2ZM820,726.4L829.1,729.1L830,732.2L820.9,729.5ZM825.2,733.7L834.3,736.4L835.2,739.5L826.1,736.8ZM830.4,741L839.5,743.7L840.4,746.8L831.3,744.1ZM835.6,748.3L844.7,751L845.6,754.1L836.5,751.4ZM840.8,755.6L849.9,758.3L850.8,761.4L841.7,758.7ZM846,762.9L855.1,765.6L856,768.7L846.9,766ZM851.2,770.2L860.3,772.9L861.2,776L852.1,773.3ZM856.4,777.5L865.5,780.2L866.4,783.3L857.3,780.6ZM800,680.8L809.1,683.5L810,686.6L800.9,683.9ZM805.2,688.1L814.3,690.8L815.2,693.9L806.1,691.2ZM810.4,695.4L819.5,698.1L820.4,701.2L811.3,698.5ZM815.6,702.7L824.7,705.4L825.6,708.5L816.5,705.8ZM820.8,710L829.9,712.7L830.8,715.8L821.7,713.1ZM826,717.3L835.1,720L836,723.1L826.9,720.4ZM831.2,724.6L840.3,727.3L841.2,730.4L832.1,727.7ZM836.4,731.9L845.5,734.6L846.4,737.7L837.3,735ZM841.6,739.2L850.7,741.9L851.6,745L842.5,742.3ZM846.8,746.5L855.9,749.2L856.8,752.3L847.7,749.6ZM852,753.8L861.1,756.5L862,759.6L852.9,756.9ZM857.2,761.1L866.3,763.8L867.2,766.9L858.1,764.2ZM862.4,768.4L871.5,771.1L872.4,774.2L863.3,771.5ZM867.6,775.7L876.7,778.4L877.6,781.5L868.5,778.8ZM811.2,679L820.3,681.7L821.2,684.8L812.1,682.1ZM816.4,686.3L825.5,689L826.4,692.1L817.3,689.4ZM821.6,693.6L830.7,696.3L831.6,699.4L822.5,696.7ZM826.8,700.9L835.9,703.6L836.8,706.7L827.7,704ZM832,708.2L841.1,710.9L842,714L832.9,711.3ZM837.2,715.5L846.3,718.2L847.2,721.3L838.1,718.6ZM842.4,722.8L851.5,725.5L852.4,728.6L843.3,725.9ZM847.6,730.1L856.7,732.8L857.6,735.9L848.5,733.2ZM852.8,737.4L861.9,740.1L862.8,743.2L853.7,740.5ZM858,744.7L867.1,747.4L868,750.5L858.9,747.8ZM863.2,752L872.3,754.7L873.2,757.8L864.1,755.1ZM868.4,759.3L877.5,762L878.4,765.1L869.3,762.4ZM873.6,766.6L882.7,769.3L883.6,772.4L874.5,769.7ZM878.8,773.9L887.9,776.6L888.8,779.7L879.7,777ZM822.4,677.2L831.5,679.9L832.4,683L823.3,680.3ZM827.6,684.5L836.7,687.2L837.6,690.3L828.5,687.6ZM832.8,691.8L841.9,694.5L842.8,697.6L833.7,694.9ZM838,699.1L847.1,701.8L848,704.9L838.9,702.2ZM843.2,706.4L852.3,709.1L853.2,712.2L844.1,709.5ZM848.4,713.7L857.5,716.4L858.4,719.5L849.3,716.8ZM853.6,721L862.7,723.7L863.6,726.8L854.5,724.1ZM858.8,728.3L867.9,731L868.8,734.1L859.7,731.4ZM864,735.6L873.1,738.3L874,741.4L864.9,738.7ZM869.2,742.9L878.3,745.6L879.2,748.7L870.1,746ZM874.4,750.2L883.5,752.9L884.4,756L875.3,753.3ZM879.6,757.5L888.7,760.2L889.6,763.3L880.5,760.6ZM884.8,764.8L893.9,767.5L894.8,770.6L885.7,767.9ZM838.8,682.7L847.9,685.4L848.8,688.5L839.7,685.8ZM844,690L853.1,692.7L854,695.8L844.9,693.1ZM849.2,697.3L858.3,700L859.2,703.1L850.1,700.4ZM854.4,704.6L863.5,707.3L864.4,710.4L855.3,707.7ZM859.6,711.9L868.7,714.6L869.6,717.7L860.5,715ZM864.8,719.2L873.9,721.9L874.8,725L865.7,722.3ZM870,726.5L879.1,729.2L880,732.3L870.9,729.6ZM875.2,733.8L884.3,736.5L885.2,739.6L876.1,736.9ZM880.4,741.1L889.5,743.8L890.4,746.9L881.3,744.2ZM885.6,748.4L894.7,751.1L895.6,754.2L886.5,751.5ZM850,680.9L859.1,683.6L860,686.7L850.9,684ZM855.2,688.2L864.3,690.9L865.2,694L856.1,691.3ZM860.4,695.5L869.5,698.2L870.4,701.3L861.3,698.6ZM865.6,702.8L874.7,705.5L875.6,708.6L866.5,705.9ZM870.8,710.1L879.9,712.8L880.8,715.9L871.7,713.2ZM876,717.4L885.1,720.1L886,723.2L876.9,720.5ZM881.2,724.7L890.3,727.4L891.2,730.5L882.1,727.8ZM886.4,732L895.5,734.7L896.4,737.8L887.3,735.1ZM861.2,679.1L870.3,681.8L871.2,684.9L862.1,682.2ZM866.4,686.4L875.5,689.1L876.4,692.2L867.3,689.5ZM871.6,693.7L880.7,696.4L881.6,699.5L872.5,696.8ZM876.8,701L885.9,703.7L886.8,706.8L877.7,704.1ZM882,708.3L891.1,711L892,714.1L882.9,711.4ZM887.2,715.6L896.3,718.3L897.2,721.4L888.1,718.7ZM872.4,677.3L881.5,680L882.4,683.1L873.3,680.4ZM877.6,684.6L886.7,687.3L887.6,690.4L878.5,687.7ZM882.8,691.9L891.9,694.6L892.8,697.7L883.7,695ZM888,699.2L897.1,701.9L898,705L888.9,702.3ZM888.8,682.8L897.9,685.5L898.8,688.6L889.7,685.9Z" fill="#fff"/><path clip-path="url(#cs3)" d="M336.19,689.89L1126.05,562.95M341.39,697.19L1131.25,570.25M346.59,704.49L1136.45,577.55M351.79,711.79L1141.65,584.85M356.99,719.09L1146.85,592.15M362.19,726.39L1152.05,599.45M367.39,733.69L1157.25,606.75M372.59,740.99L1162.45,614.05M377.79,748.29L1167.65,621.35M382.99,755.59L1172.85,628.65M388.19,762.89L1178.05,635.95M393.39,770.19L1183.25,643.25M398.59,777.49L1188.45,650.55M403.79,784.79L1193.65,657.85M408.99,792.09L1198.85,665.15M414.19,799.39L1204.05,672.45M419.39,806.69L1209.25,679.75M424.59,813.99L1214.45,687.05M429.79,821.29L1219.65,694.35M434.99,828.59L1224.85,701.65M440.19,835.89L1230.05,708.95M445.39,843.19L1235.25,716.25M450.59,850.49L1240.45,723.55M455.79,857.79L1245.65,730.85M460.99,865.09L1250.85,738.15M466.19,872.39L1256.05,745.45M471.39,879.69L1261.25,752.75M476.59,886.99L1266.45,760.05M481.79,894.29L1271.65,767.35M486.99,901.59L1276.85,774.65" stroke="#b0b0b0" stroke-width="1" stroke-dasharray="5.5 5.84" fill="none"/><path d="M743.4,688 L760.6,688 A4.4,4.4 0 0 1 760.6,696.8 L743.4,696.8 A4.4,4.4 0 0 1 743.4,688 Z" fill="#fff" stroke="#000" stroke-width="2.6"/><path d="M743.4,688 L760.6,688 A4.4,4.4 0 0 1 760.6,696.8 L743.4,696.8 A4.4,4.4 0 0 1 743.4,688 Z" fill="none" stroke="#fff" stroke-width="0.6"/><path d="M774.65,699.2 L791.85,699.2 A4.4,4.4 0 0 1 791.85,708 L774.65,708 A4.4,4.4 0 0 1 774.65,699.2 Z" fill="#fff" stroke="#000" stroke-width="2.6"/><path d="M774.65,699.2 L791.85,699.2 A4.4,4.4 0 0 1 791.85,708 L774.65,708 A4.4,4.4 0 0 1 774.65,699.2 Z" fill="none" stroke="#fff" stroke-width="0.6"/><path d="M806.7,710.5 L823.9,710.5 A4.4,4.4 0 0 1 823.9,719.3 L806.7,719.3 A4.4,4.4 0 0 1 806.7,710.5 Z" fill="#fff" stroke="#000" stroke-width="2.6"/><path d="M806.7,710.5 L823.9,710.5 A4.4,4.4 0 0 1 823.9,719.3 L806.7,719.3 A4.4,4.4 0 0 1 806.7,710.5 Z" fill="none" stroke="#fff" stroke-width="0.6"/><path d="M840.3,722.4 L857.5,722.4 A4.4,4.4 0 0 1 857.5,731.2 L840.3,731.2 A4.4,4.4 0 0 1 840.3,722.4 Z" fill="#fff" stroke="#000" stroke-width="2.6"/><path d="M840.3,722.4 L857.5,722.4 A4.4,4.4 0 0 1 857.5,731.2 L840.3,731.2 A4.4,4.4 0 0 1 840.3,722.4 Z" fill="none" stroke="#fff" stroke-width="0.6"/><path d="M870.7,733 L887.9,733 A4.4,4.4 0 0 1 887.9,741.8 L870.7,741.8 A4.4,4.4 0 0 1 870.7,733 Z" fill="#fff" stroke="#000" stroke-width="2.6"/><path d="M870.7,733 L887.9,733 A4.4,4.4 0 0 1 887.9,741.8 L870.7,741.8 A4.4,4.4 0 0 1 870.7,733 Z" fill="none" stroke="#fff" stroke-width="0.6"/><path d="M551.6,726.2 L572.8,726.2 A4.4,4.4 0 0 1 572.8,735 L551.6,735 A4.4,4.4 0 0 1 551.6,726.2 Z" fill="#fff" stroke="#000" stroke-width="2.6"/><path d="M551.6,726.2 L572.8,726.2 A4.4,4.4 0 0 1 572.8,735 L551.6,735 A4.4,4.4 0 0 1 551.6,726.2 Z" fill="none" stroke="#fff" stroke-width="0.6"/><path d="M577.9,737.7 L599.1,737.7 A4.4,4.4 0 0 1 599.1,746.5 L577.9,746.5 A4.4,4.4 0 0 1 577.9,737.7 Z" fill="#fff" stroke="#000" stroke-width="2.6"/><path d="M577.9,737.7 L599.1,737.7 A4.4,4.4 0 0 1 599.1,746.5 L577.9,746.5 A4.4,4.4 0 0 1 577.9,737.7 Z" fill="none" stroke="#fff" stroke-width="0.6"/><path d="M609.6,750 L630.8,750 A4.4,4.4 0 0 1 630.8,758.8 L609.6,758.8 A4.4,4.4 0 0 1 609.6,750 Z" fill="#fff" stroke="#000" stroke-width="2.6"/><path d="M609.6,750 L630.8,750 A4.4,4.4 0 0 1 630.8,758.8 L609.6,758.8 A4.4,4.4 0 0 1 609.6,750 Z" fill="none" stroke="#fff" stroke-width="0.6"/><path d="M642.1,761.4 L663.3,761.4 A4.4,4.4 0 0 1 663.3,770.2 L642.1,770.2 A4.4,4.4 0 0 1 642.1,761.4 Z" fill="#fff" stroke="#000" stroke-width="2.6"/><path d="M642.1,761.4 L663.3,761.4 A4.4,4.4 0 0 1 663.3,770.2 L642.1,770.2 A4.4,4.4 0 0 1 642.1,761.4 Z" fill="none" stroke="#fff" stroke-width="0.6"/><path d="M524,729.4 Q527,721.6 540,720 L744,687.8" fill="none" stroke="#000" stroke-width="2.8" stroke-linejoin="round" stroke-linecap="butt"/><path d="M524,729.4 Q527,721.6 540,720 L744,687.8" fill="none" stroke="#fff" stroke-width="0.6" stroke-linejoin="round"/><path d="M546,729.4 Q536,730.4 541,734.9 L654,773.9 Q662,776.8 672,775.6 L886,741" fill="none" stroke="#000" stroke-width="3.5" stroke-linejoin="round" stroke-linecap="butt"/><path d="M546,729.4 Q536,730.4 541,734.9 L654,773.9 Q662,776.8 672,775.6 L886,741" fill="none" stroke="#fff" stroke-width="1.1" stroke-linejoin="round"/><path d="M513.2,500 L513.2,716 Q513.6,724.5 522,724.5 L548,722.5" fill="none" stroke="#000" stroke-width="4" stroke-linejoin="round" stroke-linecap="butt"/><path d="M513.2,500 L513.2,716 Q513.6,724.5 522,724.5 L548,722.5" fill="none" stroke="#fff" stroke-width="1.5" stroke-linejoin="round"/><path d="M525.5,584 Q523.6,590 523.6,600 L523.8,714 Q524,721 530,720.5 L548,718.5" fill="none" stroke="#000" stroke-width="3.8" stroke-linejoin="round" stroke-linecap="butt"/><path d="M525.5,584 Q523.6,590 523.6,600 L523.8,714 Q524,721 530,720.5 L548,718.5" fill="none" stroke="#fff" stroke-width="1.4" stroke-linejoin="round"/><path d="M522.5,489 L521.6,570" fill="none" stroke="#000" stroke-width="3.8" stroke-linejoin="round" stroke-linecap="butt"/><path d="M522.5,489 L521.6,570" fill="none" stroke="#fff" stroke-width="1.4" stroke-linejoin="round"/></g><g id="parts" fill="none" stroke="#000" stroke-linejoin="round" stroke-linecap="round"><path d="M124.3,524.5 L126.6,652.4 L134.9,652.2 L132.1,524.3" stroke-width="1.9" fill="#fff"/><ellipse cx="128.2" cy="524.4" rx="4.6" ry="1.7" fill="#000" stroke="none"/><path d="M126.7,654.4 L129.3,800.5 Q133,802.5 136.6,800.3 L134.4,654 Q131,655.5 126.7,654.4" stroke-width="1.9" fill="#fff"/><ellipse cx="497.2" cy="388.4" rx="5.8" ry="6.6" stroke-width="2.2" fill="#fff"/><ellipse cx="498" cy="388.6" rx="3" ry="4.4" stroke-width="1.3"/><path d="M492.3,395.2 L492.4,401.5 L488.2,408.6 L489,411.8 L493.4,410.3 L497.6,403.2 L501.7,395.2" stroke-width="1.6" fill="#fff"/><path d="M494.5,399.5 L491,407 L492.8,408 L496.5,401.5 Z" stroke-width="1.1" fill="#fff"/><path d="M489.5,412 L474,430" stroke-width="4.0"/><path d="M489.5,412 L474,430" stroke-width="1.0" stroke="#666"/><ellipse cx="471.6" cy="433.2" rx="3.8" ry="4.6" transform="rotate(35 471.6 433.2)" stroke-width="2" fill="#fff"/><path d="M468.5,437.5 L465,441.5" stroke-width="3"/><path d="M232.8,816.4 L336.2,804.4 L383.2,820.6 L382.6,835.4 L377.5,837.2 L375.6,841.2 Q372,833 358,831.2 Q345,830 334,832.5 L293.5,846.5 L286,847.4 L232.2,833.6 Z" stroke-width="1.89" fill="#fff"/><path d="M232.8,816.4 L281,832.8 L383.2,820.6 M281,832.8 L286,847.4" stroke-width="1.77"/><path d="M251.5,820.2 L338,809.5 L368.5,820.4 L282,830.8 Z" stroke-width="1.77" fill="#fff"/><path d="M259,818.8 L282,827 M270.5,826.5 Q285,815 322,813 Q345,813 357,821.5" stroke-width="1.53"/><path d="M337,809.4 L337.5,812.5 L359.5,819 M322,812.5 L321,810.6" stroke-width="1.3"/><path d="M312.5,835.5 L312.5,842.8 L322.5,843 L322.5,833.8" stroke-width="1.65" fill="#fff"/><path d="M240,820.5 Q244,818 248,821 L248.5,826" stroke-width="1.42"/><path d="M229,839.5 Q226,842 228.5,845.5 L231,846.5 M230,838.5 L236,837 L250,843.5 L262,841" stroke-width="1.65"/><path d="M252,837.5 L252,851 L268,853.5 L268,842 M258,842 L258,853" stroke-width="1.65" fill="#fff"/><path d="M277,931.2 L292,927.8 L293.8,940 Q298,946.5 306.5,949.6 L297.2,951.2 L277.6,934.8 Z" stroke-width="2.01" fill="#fff"/><path d="M278.2,934.2 L292.8,931.5" stroke-width="1.3"/><path d="M377.8,936.5 L384.9,939.6 L384.9,941.6 L379.2,942.4 L374,944.5" stroke-width="1.77" fill="#fff"/><path d="M292.2,884 L293.5,939 Q300,948 308,951.7 Q320,955.8 333.5,955.6 Q350,955 360,951.5 Q372,946.5 378.5,939.5 L378,890" stroke-width="2.12" fill="#fff"/><path d="M290.9,877.5 Q291,868 295.4,865.4 Q300,858 308.1,855.2 Q318,851 327.1,848.9 Q338,846.5 348.7,846.3 Q360,847 366.5,850.2 Q374,854 376.6,860.3 Q380.5,866 380.4,871.7 Q381.5,877 381.1,882 Q380,887 378,890 Q370,899 358.9,903.5 Q345,907 333.5,906.4 Q318,905.5 308.1,900.2 Q297,895 292.3,887.5 Q290.8,882 290.9,877.5 Z" stroke-width="2.12" fill="#fff"/><path d="M291.5,880 Q296,891 308,896.6 Q322,900.5 339.8,899.8 Q356,898 366,893 Q376.5,887 380.5,876" stroke-width="1.77"/><path d="M339.8,894.8 Q343,891 348.7,889.6 Q358,887.5 366.5,884.4" stroke-width="1.53"/><circle cx="287.1" cy="932.7" r="1.6" stroke-width="1.3"/><path d="M281.3,877.5 L281.8,895.5 Q282.5,899.5 291.6,902.5 M284.2,877.5 L284.6,894 Q285,896.8 291.8,899" stroke-width="1.53"/><path d="M281.3,877.5 Q282.7,875.4 284.2,877.5" stroke-width="1.53"/><path d="M379.2,888.4 L384.5,888 L389.5,896 L390.8,918 L386.8,924.4 L374.1,925 L373.5,903.5 L386.2,902.8 L386.8,924.4" stroke-width="1.77" fill="#fff"/><path d="M386.2,902.8 L390.2,899.8 M379.5,925 L380,927.8 L386.5,927.5 L389,924.5" stroke-width="1.42"/><path d="M381,882.5 L395.8,876.3 M381.5,885.4 L396.6,879.4 M395.8,876.3 Q397.6,877.6 396.6,879.4" stroke-width="1.42"/><path d="M429.8,811.5 L430.2,822 M433.8,811.5 L433.4,822" stroke-width="1.42"/><path d="M428,822.5 Q432,819.5 436,822.5 L436.3,849.5 L428.4,849.6 Z" stroke-width="1.77" fill="#fff"/><path d="M428,825 L436,825" stroke-width="1.3"/><path d="M430.6,849.6 L430.8,858.5 L434.2,858.5 L434,849.6" stroke-width="1.42" fill="#fff"/><path d="M432.5,858.5 L432.2,870 Q432.5,876 437.5,877.5" stroke-width="1.89"/><path d="M121.9,873.6 L139.8,864.5 L144.3,879.5 L126.2,888.4" stroke-width="1.77" fill="#fff"/><ellipse cx="140.8" cy="872.2" rx="3.2" ry="7.9" transform="rotate(-12 140.8 872.2)" stroke-width="1.77" fill="#fff"/><ellipse cx="122.3" cy="880.9" rx="3.8" ry="7.4" transform="rotate(-12 122.3 880.9)" stroke-width="1.89" fill="#fff"/><path d="M122.6,881.6 L142.2,872.2 M123,883 L141.7,874" stroke-width="1.3"/><path d="M217.3,911.8 L217.8,924.8 Q224,928.5 230.8,924.8 L230.6,911.8" stroke-width="1.77" fill="#fff"/><ellipse cx="224" cy="911.6" rx="6.7" ry="2.6" stroke-width="1.77" fill="#fff"/><path d="M220.8,910.6 L220.8,906.6 Q224,903.8 227.2,906.6 L227.2,910.6" stroke-width="1.65" fill="#fff"/><path d="M222.6,927 L222.6,936 M225.6,927 L225.6,936" stroke-width="1.53"/><path d="M222.6,935.5 L219,943.5 L221.5,945 L224,940 L226.6,945 L229.6,943.5 L225.6,935.5" stroke-width="1.53" fill="#fff"/><path d="M497,858.5 L510.5,856.8 L511.2,870 L497,870.6 Z" stroke-width="1.65" fill="#fff"/><ellipse cx="491.2" cy="861.3" rx="5.9" ry="10" stroke-width="2.01" fill="#fff"/><ellipse cx="492" cy="862.5" rx="3.1" ry="6.6" stroke-width="1.53" fill="#fff"/><path d="M484.7,870.3 L514.5,869.3 L515.2,879.2 L485,880 Z" stroke-width="1.77" fill="#fff"/><path d="M491,870 L491.3,879.8 M497,870 L497.2,879.6 M503,869.8 L503.3,879.4" stroke-width="1.42"/><path d="M479.8,881 L506.5,879.2 L509.5,882.5 L518.8,884.5 L519.2,893 L516.6,902.6 L496.2,903.6 L480.6,898.6 Z" stroke-width="1.89" fill="#fff"/><path d="M481.5,885.5 L503,883.5 M482,890.5 L503.5,888.5 M490,891 L490.5,901 M496,891.5 L496.5,903 M505,887 L505.5,900.5" stroke-width="1.42"/><path d="M504.5,884 Q507.5,881.5 511,884 L511.4,893 L505,893.6 Z" stroke-width="1.53" fill="#fff"/><path d="M507,893.6 L507.2,902.8 M510,893.4 L510.2,902.5" stroke-width="1.3"/><path d="M533,841.4 L545.5,838.2 Q555.5,840 555.3,851 Q555,861 551.5,863.2 L536.5,865.8 Z" stroke-width="1.77" fill="#fff"/><path d="M545.5,838.3 Q551.2,842 551.4,851 Q551.5,859.5 547.6,863.7" stroke-width="1.53"/><ellipse cx="534.6" cy="853.6" rx="5.4" ry="12.2" transform="rotate(4 534.6 853.6)" stroke-width="1.89" fill="#fff"/><path d="M523.8,855.6 L531.4,855 L531.6,860.6 L524,861.2 Z M530.5,851 L531,864" stroke-width="1.53" fill="#fff"/></g><g font-family="Liberation Sans, sans-serif" fill="#1a1a1a" stroke="#1a1a1a" stroke-width="0.35" opacity="0.995"><text x="480.5" y="134.4" font-size="18.5">101</text><polyline points="426.8,150 464.4,127.6 478.6,127.6" fill="none" stroke="#222" stroke-width="1.1"/><text x="545.4" y="387.7" font-size="18.5">584</text><polyline points="502.6,392.8 526.6,379.1 544.3,379.1" fill="none" stroke="#222" stroke-width="1.1"/><text x="817" y="433" font-size="18.5">102</text><polyline points="764.9,445.6 796.6,427.2 816,427.2" fill="none" stroke="#222" stroke-width="1.1"/><text x="178.1" y="791.2" font-size="18.5">112</text><polyline points="136.4,798 162,784 177.8,784" fill="none" stroke="#222" stroke-width="1.1"/><text x="399.8" y="804.4" font-size="18.5">140</text><polyline points="364.6,813.2 389.6,799.5 398.3,799.5" fill="none" stroke="#222" stroke-width="1.1"/><text x="438.3" y="839" font-size="18.5">32</text><text x="167" y="868.3" font-size="18.5">251</text><text x="197" y="868" font-size="13">A</text><polyline points="144.5,866.6 154.7,860.3 165.6,860.3" fill="none" stroke="#222" stroke-width="1.1"/><text x="565" y="882" font-size="18.5">009</text><polyline points="518.4,889.8 544.8,875.2 563.3,875.2" fill="none" stroke="#222" stroke-width="1.1"/><text x="174.8" y="929.3" font-size="18.5">11</text><polyline points="194.5,922 202.3,922 216.4,916.6" fill="none" stroke="#222" stroke-width="1.1"/><text x="424.3" y="913.3" font-size="18.5">002</text><polyline points="392,907 422,906" fill="none" stroke="#222" stroke-width="1.1"/><text x="791.5" y="970.2" font-size="8.9" transform="translate(791.5 0) scale(0.91 1) translate(-791.5 0)">P09253027673</text></g></svg></body></html>
